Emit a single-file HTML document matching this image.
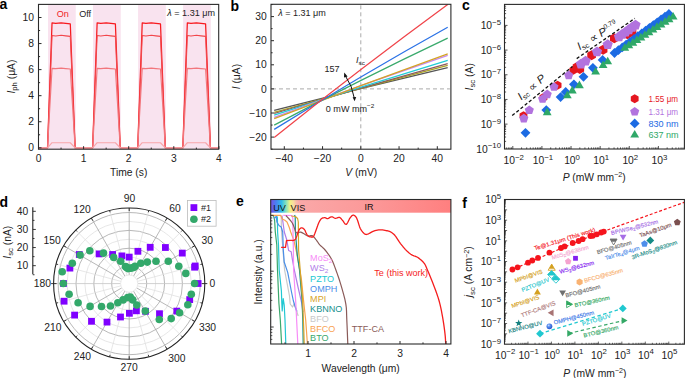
<!DOCTYPE html><html><head><meta charset="utf-8"><style>html,body{margin:0;padding:0;background:#fff}svg{display:block}</style></head><body>
<svg xmlns="http://www.w3.org/2000/svg" width="685" height="378" viewBox="0 0 685 378" font-family='"Liberation Sans", sans-serif'>
<rect width="685" height="378" fill="#fff"/>
<rect x="48" y="4.4" width="27.75" height="144.8" fill="#f9e3ef"/>
<rect x="93.03" y="4.4" width="27.75" height="144.8" fill="#f9e3ef"/>
<rect x="138.06" y="4.4" width="27.75" height="144.8" fill="#f9e3ef"/>
<rect x="183.09" y="4.4" width="27.75" height="144.8" fill="#f9e3ef"/>
<polyline points="39,147.8 47.52,147.8 52.03,22.97 55.68,23.47 61.16,22.77 65.73,23.37 70.3,23.97 75.12,147.8 92.62,147.8 97.13,22.97 100.78,23.47 106.26,22.77 110.83,23.37 115.4,23.97 120.22,147.8 137.72,147.8 142.23,22.97 145.88,23.47 151.36,22.77 155.93,23.37 160.5,23.97 165.32,147.8 182.82,147.8 187.33,22.97 190.98,23.47 196.46,22.77 201.03,23.37 205.6,23.97 210.42,147.8 218.2,147.8" fill="none" stroke="#f71a1f" stroke-width="1.25" stroke-linejoin="round"/>
<polyline points="39,147.8 47.52,147.8 52.03,35.48 55.68,35.93 61.16,35.3 65.73,35.84 70.3,36.38 75.12,147.8 92.62,147.8 97.13,35.48 100.78,35.93 106.26,35.3 110.83,35.84 115.4,36.38 120.22,147.8 137.72,147.8 142.23,35.48 145.88,35.93 151.36,35.3 155.93,35.84 160.5,36.38 165.32,147.8 182.82,147.8 187.33,35.48 190.98,35.93 196.46,35.3 201.03,35.84 205.6,36.38 210.42,147.8 218.2,147.8" fill="none" stroke="#f2474c" stroke-width="1.1" stroke-linejoin="round"/>
<polyline points="39,147.8 47.52,147.8 52.03,68.32 55.68,68.63 61.16,68.19 65.73,68.57 70.3,68.95 75.12,147.8 92.62,147.8 97.13,68.32 100.78,68.63 106.26,68.19 110.83,68.57 115.4,68.95 120.22,147.8 137.72,147.8 142.23,68.32 145.88,68.63 151.36,68.19 155.93,68.57 160.5,68.95 165.32,147.8 182.82,147.8 187.33,68.32 190.98,68.63 196.46,68.19 201.03,68.57 205.6,68.95 210.42,147.8 218.2,147.8" fill="none" stroke="#f2767c" stroke-width="1.15" stroke-linejoin="round"/>
<polyline points="39,147.8 47.52,147.8 52.03,142.72 55.68,142.74 61.16,142.71 65.73,142.73 70.3,142.76 75.12,147.8 92.62,147.8 97.13,142.72 100.78,142.74 106.26,142.71 110.83,142.73 115.4,142.76 120.22,147.8 137.72,147.8 142.23,142.72 145.88,142.74 151.36,142.71 155.93,142.73 160.5,142.76 165.32,147.8 182.82,147.8 187.33,142.72 190.98,142.74 196.46,142.71 201.03,142.73 205.6,142.76 210.42,147.8 218.2,147.8" fill="none" stroke="#f7a6aa" stroke-width="1.15" stroke-linejoin="round"/>
<rect x="38.5" y="4.4" width="180.2" height="144.8" fill="none" stroke="#2a2a2a" stroke-width="1.1"/>
<line x1="38.5" y1="147.8" x2="41.5" y2="147.8" stroke="#2a2a2a" stroke-width="1" />
<text transform="translate(33.9,151.4) scale(1.03,1)" font-size="10" text-anchor="end" fill="#222" >0</text>
<line x1="38.5" y1="134.77" x2="40.1" y2="134.77" stroke="#2a2a2a" stroke-width="1" />
<line x1="38.5" y1="121.74" x2="41.5" y2="121.74" stroke="#2a2a2a" stroke-width="1" />
<text transform="translate(33.9,125.34) scale(1.03,1)" font-size="10" text-anchor="end" fill="#222" >2</text>
<line x1="38.5" y1="108.71" x2="40.1" y2="108.71" stroke="#2a2a2a" stroke-width="1" />
<line x1="38.5" y1="95.68" x2="41.5" y2="95.68" stroke="#2a2a2a" stroke-width="1" />
<text transform="translate(33.9,99.28) scale(1.03,1)" font-size="10" text-anchor="end" fill="#222" >4</text>
<line x1="38.5" y1="82.65" x2="40.1" y2="82.65" stroke="#2a2a2a" stroke-width="1" />
<line x1="38.5" y1="69.62" x2="41.5" y2="69.62" stroke="#2a2a2a" stroke-width="1" />
<text transform="translate(33.9,73.22) scale(1.03,1)" font-size="10" text-anchor="end" fill="#222" >6</text>
<line x1="38.5" y1="56.59" x2="40.1" y2="56.59" stroke="#2a2a2a" stroke-width="1" />
<line x1="38.5" y1="43.56" x2="41.5" y2="43.56" stroke="#2a2a2a" stroke-width="1" />
<text transform="translate(33.9,47.16) scale(1.03,1)" font-size="10" text-anchor="end" fill="#222" >8</text>
<line x1="38.5" y1="30.53" x2="40.1" y2="30.53" stroke="#2a2a2a" stroke-width="1" />
<line x1="38.5" y1="17.5" x2="41.5" y2="17.5" stroke="#2a2a2a" stroke-width="1" />
<text transform="translate(33.9,21.1) scale(1.03,1)" font-size="10" text-anchor="end" fill="#222" >10</text>
<line x1="38.5" y1="149.2" x2="38.5" y2="146.2" stroke="#2a2a2a" stroke-width="1" />
<text transform="translate(38.5,161.5) scale(1.03,1)" font-size="10" text-anchor="middle" fill="#222" >0</text>
<line x1="61.05" y1="149.2" x2="61.05" y2="147.6" stroke="#2a2a2a" stroke-width="1" />
<line x1="83.6" y1="149.2" x2="83.6" y2="146.2" stroke="#2a2a2a" stroke-width="1" />
<text transform="translate(83.6,161.5) scale(1.03,1)" font-size="10" text-anchor="middle" fill="#222" >1</text>
<line x1="106.15" y1="149.2" x2="106.15" y2="147.6" stroke="#2a2a2a" stroke-width="1" />
<line x1="128.7" y1="149.2" x2="128.7" y2="146.2" stroke="#2a2a2a" stroke-width="1" />
<text transform="translate(128.7,161.5) scale(1.03,1)" font-size="10" text-anchor="middle" fill="#222" >2</text>
<line x1="151.25" y1="149.2" x2="151.25" y2="147.6" stroke="#2a2a2a" stroke-width="1" />
<line x1="173.8" y1="149.2" x2="173.8" y2="146.2" stroke="#2a2a2a" stroke-width="1" />
<text transform="translate(173.8,161.5) scale(1.03,1)" font-size="10" text-anchor="middle" fill="#222" >3</text>
<line x1="196.35" y1="149.2" x2="196.35" y2="147.6" stroke="#2a2a2a" stroke-width="1" />
<line x1="218.9" y1="149.2" x2="218.9" y2="146.2" stroke="#2a2a2a" stroke-width="1" />
<text transform="translate(218.9,161.5) scale(1.03,1)" font-size="10" text-anchor="middle" fill="#222" >4</text>
<text transform="translate(128.7,176.4) scale(1.03,1)" font-size="10" text-anchor="middle" fill="#222" >Time (s)</text>
<text transform="translate(15.0,76.6) rotate(-90) scale(1.03,1)" font-size="10" text-anchor="middle" fill="#222"><tspan font-style="italic">I</tspan><tspan font-size="7.5" dy="2.4">ph</tspan><tspan dy="-2.4"> (μA)</tspan></text>
<text transform="translate(56.8,17) scale(1.03,1)" font-size="8.8" fill="#f01c24" >On</text>
<text transform="translate(79.2,17.2) scale(1.03,1)" font-size="8.8" fill="#222" >Off</text>
<text transform="translate(167.3,15.7) scale(1.03,1)" font-size="8.8" fill="#222"><tspan font-style="italic">λ</tspan> = 1.31 μm</text>
<text x="-0.6" y="8.8" font-size="14" font-weight="bold" fill="#000" >a</text>
<line x1="272" y1="88.9" x2="449.9" y2="88.9" stroke="#aaaaaa" stroke-width="1" stroke-dasharray="4,3"/>
<line x1="360.8" y1="5.3" x2="360.8" y2="148.2" stroke="#aaaaaa" stroke-width="1" stroke-dasharray="4,3"/>
<path d="M274.2,110.4 Q360.95,88.25 447.7,67.7" fill="none" stroke="#555555" stroke-width="1.25" />
<path d="M274.2,112.4 Q360.95,87.9 447.7,65.4" fill="none" stroke="#a8a224" stroke-width="1.25" />
<path d="M274.2,113.5 Q360.95,87.6 447.7,63.7" fill="none" stroke="#8b5a5e" stroke-width="1.25" />
<path d="M274.2,115.2 Q360.95,86.6 447.7,60.4" fill="none" stroke="#22cdd6" stroke-width="1.25" />
<path d="M274.2,117.3 Q360.95,84.95 447.7,55.4" fill="none" stroke="#c58af2" stroke-width="1.25" />
<path d="M274.2,118.7 Q360.95,84.9 447.7,53.9" fill="none" stroke="#d4a324" stroke-width="1.25" />
<path d="M274.2,125.1 Q360.95,79.2 447.7,38.1" fill="none" stroke="#3aaa6c" stroke-width="1.25" />
<path d="M274.2,129.4 Q360.95,75.5 447.7,27.2" fill="none" stroke="#2b72e6" stroke-width="1.25" />
<path d="M274.2,137.4 Q360.95,68.2 447.7,4.6" fill="none" stroke="#f0444a" stroke-width="1.25" />
<rect x="271" y="4.3" width="179.9" height="144.9" fill="none" stroke="#2a2a2a" stroke-width="1.1"/>
<line x1="271" y1="149.15" x2="272.6" y2="149.15" stroke="#2a2a2a" stroke-width="1" />
<line x1="271" y1="137.1" x2="274" y2="137.1" stroke="#2a2a2a" stroke-width="1" />
<text transform="translate(266.6,140.7) scale(1.03,1)" font-size="10" text-anchor="end" fill="#222" >−20</text>
<line x1="271" y1="125.05" x2="272.6" y2="125.05" stroke="#2a2a2a" stroke-width="1" />
<line x1="271" y1="113" x2="274" y2="113" stroke="#2a2a2a" stroke-width="1" />
<text transform="translate(266.6,116.6) scale(1.03,1)" font-size="10" text-anchor="end" fill="#222" >−10</text>
<line x1="271" y1="100.95" x2="272.6" y2="100.95" stroke="#2a2a2a" stroke-width="1" />
<line x1="271" y1="88.9" x2="274" y2="88.9" stroke="#2a2a2a" stroke-width="1" />
<text transform="translate(266.6,92.5) scale(1.03,1)" font-size="10" text-anchor="end" fill="#222" >0</text>
<line x1="271" y1="76.85" x2="272.6" y2="76.85" stroke="#2a2a2a" stroke-width="1" />
<line x1="271" y1="64.8" x2="274" y2="64.8" stroke="#2a2a2a" stroke-width="1" />
<text transform="translate(266.6,68.4) scale(1.03,1)" font-size="10" text-anchor="end" fill="#222" >10</text>
<line x1="271" y1="52.75" x2="272.6" y2="52.75" stroke="#2a2a2a" stroke-width="1" />
<line x1="271" y1="40.7" x2="274" y2="40.7" stroke="#2a2a2a" stroke-width="1" />
<text transform="translate(266.6,44.3) scale(1.03,1)" font-size="10" text-anchor="end" fill="#222" >20</text>
<line x1="271" y1="28.65" x2="272.6" y2="28.65" stroke="#2a2a2a" stroke-width="1" />
<line x1="271" y1="16.6" x2="274" y2="16.6" stroke="#2a2a2a" stroke-width="1" />
<text transform="translate(266.6,20.2) scale(1.03,1)" font-size="10" text-anchor="end" fill="#222" >30</text>
<line x1="271" y1="4.55" x2="272.6" y2="4.55" stroke="#2a2a2a" stroke-width="1" />
<line x1="284.3" y1="149.2" x2="284.3" y2="146.2" stroke="#2a2a2a" stroke-width="1" />
<text transform="translate(284.3,161.9) scale(1.03,1)" font-size="10" text-anchor="middle" fill="#222" >−40</text>
<line x1="303.43" y1="149.2" x2="303.43" y2="147.6" stroke="#2a2a2a" stroke-width="1" />
<line x1="322.55" y1="149.2" x2="322.55" y2="146.2" stroke="#2a2a2a" stroke-width="1" />
<text transform="translate(322.55,161.9) scale(1.03,1)" font-size="10" text-anchor="middle" fill="#222" >−20</text>
<line x1="341.68" y1="149.2" x2="341.68" y2="147.6" stroke="#2a2a2a" stroke-width="1" />
<line x1="360.8" y1="149.2" x2="360.8" y2="146.2" stroke="#2a2a2a" stroke-width="1" />
<text transform="translate(360.8,161.9) scale(1.03,1)" font-size="10" text-anchor="middle" fill="#222" >0</text>
<line x1="379.93" y1="149.2" x2="379.93" y2="147.6" stroke="#2a2a2a" stroke-width="1" />
<line x1="399.05" y1="149.2" x2="399.05" y2="146.2" stroke="#2a2a2a" stroke-width="1" />
<text transform="translate(399.05,161.9) scale(1.03,1)" font-size="10" text-anchor="middle" fill="#222" >20</text>
<line x1="418.18" y1="149.2" x2="418.18" y2="147.6" stroke="#2a2a2a" stroke-width="1" />
<line x1="437.3" y1="149.2" x2="437.3" y2="146.2" stroke="#2a2a2a" stroke-width="1" />
<text transform="translate(437.3,161.9) scale(1.03,1)" font-size="10" text-anchor="middle" fill="#222" >40</text>
<text transform="translate(361.2,176.2) scale(1.03,1)" font-size="10" text-anchor="middle" fill="#222"><tspan font-style="italic">V</tspan> (mV)</text>
<text transform="translate(240,76.6) rotate(-90) scale(1.03,1)" font-size="10" text-anchor="middle" fill="#222"><tspan font-style="italic">I</tspan> (μA)</text>
<text transform="translate(278.2,15.9) scale(1.03,1)" font-size="8.8" fill="#222"><tspan font-style="italic">λ</tspan> = 1.31 μm</text>
<text transform="translate(324.4,72.2) scale(1.03,1)" font-size="8.8" fill="#222" >157</text>
<text transform="translate(325.8,111.6) scale(1.03,1)" font-size="8.8" fill="#222">0 mW mm<tspan font-size="6.2" dy="-3.3">−2</tspan></text>
<text transform="translate(356.0,62.8) scale(1.03,1)" font-size="8.8" fill="#222"><tspan font-style="italic">I</tspan><tspan font-size="6.2" dy="2.4">sc</tspan></text>
<path d="M345.2,75.5 Q352.5,86 354.4,98.5" fill="none" stroke="#111" stroke-width="1" />
<polygon points="344.2,72.6 347.6,76.6 344,77.4" fill="#111" stroke="none" stroke-width="1" />
<polygon points="354.6,101.2 352.6,97.2 356.2,97" fill="#111" stroke="none" stroke-width="1" />
<text x="230.6" y="10.6" font-size="14" font-weight="bold" fill="#000" >b</text>
<polygon points="523.5,111.3 527.4,113.55 527.4,118.05 523.5,120.3 519.6,118.05 519.6,113.55" fill="#e5161f" stroke="none" stroke-width="1" />
<polygon points="543.5,93.1 547.4,95.35 547.4,99.85 543.5,102.1 539.6,99.85 539.6,95.35" fill="#e5161f" stroke="none" stroke-width="1" />
<polygon points="557.6,80.7 561.5,82.95 561.5,87.45 557.6,89.7 553.7,87.45 553.7,82.95" fill="#e5161f" stroke="none" stroke-width="1" />
<polygon points="573.3,65.8 577.2,68.05 577.2,72.55 573.3,74.8 569.4,72.55 569.4,68.05" fill="#e5161f" stroke="none" stroke-width="1" />
<polygon points="577,62 581.33,64.5 581.33,69.5 577,72 572.67,69.5 572.67,64.5" fill="#e5161f" stroke="none" stroke-width="1" />
<polygon points="579.8,63.9 584.13,66.4 584.13,71.4 579.8,73.9 575.47,71.4 575.47,66.4" fill="#e5161f" stroke="none" stroke-width="1" />
<polygon points="591.6,50.3 595.93,52.8 595.93,57.8 591.6,60.3 587.27,57.8 587.27,52.8" fill="#e5161f" stroke="none" stroke-width="1" />
<polygon points="603.1,44.7 607.43,47.2 607.43,52.2 603.1,54.7 598.77,52.2 598.77,47.2" fill="#e5161f" stroke="none" stroke-width="1" />
<polygon points="614.3,33.3 618.63,35.8 618.63,40.8 614.3,43.3 609.97,40.8 609.97,35.8" fill="#e5161f" stroke="none" stroke-width="1" />
<polygon points="627.5,29.2 631.83,31.7 631.83,36.7 627.5,39.2 623.17,36.7 623.17,31.7" fill="#e5161f" stroke="none" stroke-width="1" />
<polygon points="632,26.4 636.33,28.9 636.33,33.9 632,36.4 627.67,33.9 627.67,28.9" fill="#e5161f" stroke="none" stroke-width="1" />
<polygon points="523.8,113.78 528.37,117.1 526.62,122.46 520.98,122.46 519.23,117.1" fill="#b273de" stroke="none" stroke-width="1" />
<polygon points="529.3,105.38 533.87,108.7 532.12,114.06 526.48,114.06 524.73,108.7" fill="#b273de" stroke="none" stroke-width="1" />
<polygon points="542.6,94.18 547.17,97.5 545.42,102.86 539.78,102.86 538.03,97.5" fill="#b273de" stroke="none" stroke-width="1" />
<polygon points="547.2,89.58 551.77,92.9 550.02,98.26 544.38,98.26 542.63,92.9" fill="#b273de" stroke="none" stroke-width="1" />
<polygon points="554,82.18 558.57,85.5 556.82,90.86 551.18,90.86 549.43,85.5" fill="#b273de" stroke="none" stroke-width="1" />
<polygon points="568.7,70.58 573.27,73.9 571.52,79.26 565.88,79.26 564.13,73.9" fill="#b273de" stroke="none" stroke-width="1" />
<polygon points="580.9,58.74 586.04,62.47 584.07,68.51 577.73,68.51 575.76,62.47" fill="#b273de" stroke="none" stroke-width="1" />
<polygon points="585.6,55.74 590.74,59.47 588.77,65.51 582.43,65.51 580.46,59.47" fill="#b273de" stroke="none" stroke-width="1" />
<polygon points="597,46.44 602.14,50.17 600.17,56.21 593.83,56.21 591.86,50.17" fill="#b273de" stroke="none" stroke-width="1" />
<polygon points="607.7,39.34 612.84,43.07 610.87,49.11 604.53,49.11 602.56,43.07" fill="#b273de" stroke="none" stroke-width="1" />
<polygon points="619,31.44 624.14,35.17 622.17,41.21 615.83,41.21 613.86,35.17" fill="#b273de" stroke="none" stroke-width="1" />
<polygon points="622.3,29.08 627.44,32.81 625.47,38.85 619.13,38.85 617.16,32.81" fill="#b273de" stroke="none" stroke-width="1" />
<polygon points="625.6,26.72 630.74,30.45 628.77,36.49 622.43,36.49 620.46,30.45" fill="#b273de" stroke="none" stroke-width="1" />
<polygon points="628.9,24.36 634.04,28.09 632.07,34.13 625.73,34.13 623.76,28.09" fill="#b273de" stroke="none" stroke-width="1" />
<polygon points="632.2,22 637.34,25.73 635.37,31.77 629.03,31.77 627.06,25.73" fill="#b273de" stroke="none" stroke-width="1" />
<polygon points="635.5,19.64 640.64,23.37 638.67,29.41 632.33,29.41 630.36,23.37" fill="#b273de" stroke="none" stroke-width="1" />
<polygon points="525.5,127.9 530.4,132.8 525.5,137.7 520.6,132.8" fill="#1c6be3" stroke="none" stroke-width="1" />
<polygon points="546.3,105.2 551.2,110.1 546.3,115 541.4,110.1" fill="#1c6be3" stroke="none" stroke-width="1" />
<polygon points="560.6,92.2 565.5,97.1 560.6,102 555.7,97.1" fill="#1c6be3" stroke="none" stroke-width="1" />
<polygon points="565.7,87.1 570.6,92 565.7,96.9 560.8,92" fill="#1c6be3" stroke="none" stroke-width="1" />
<polygon points="573.9,79.4 578.8,84.3 573.9,89.2 569,84.3" fill="#1c6be3" stroke="none" stroke-width="1" />
<polygon points="583.5,71.9 588.4,76.8 583.5,81.7 578.6,76.8" fill="#1c6be3" stroke="none" stroke-width="1" />
<polygon points="592.9,62.9 597.8,67.8 592.9,72.7 588,67.8" fill="#1c6be3" stroke="none" stroke-width="1" />
<polygon points="602.6,55 607.5,59.9 602.6,64.8 597.7,59.9" fill="#1c6be3" stroke="none" stroke-width="1" />
<polygon points="614.5,48.1 619.4,53 614.5,57.9 609.6,53" fill="#1c6be3" stroke="none" stroke-width="1" />
<polygon points="618.39,45.31 623.29,50.21 618.39,55.11 613.49,50.21" fill="#1c6be3" stroke="none" stroke-width="1" />
<polygon points="622.27,42.51 627.17,47.41 622.27,52.31 617.37,47.41" fill="#1c6be3" stroke="none" stroke-width="1" />
<polygon points="626.16,39.72 631.06,44.62 626.16,49.52 621.26,44.62" fill="#1c6be3" stroke="none" stroke-width="1" />
<polygon points="630.04,36.93 634.94,41.83 630.04,46.73 625.14,41.83" fill="#1c6be3" stroke="none" stroke-width="1" />
<polygon points="633.93,34.14 638.83,39.04 633.93,43.94 629.03,39.04" fill="#1c6be3" stroke="none" stroke-width="1" />
<polygon points="637.81,31.34 642.71,36.24 637.81,41.14 632.91,36.24" fill="#1c6be3" stroke="none" stroke-width="1" />
<polygon points="641.7,28.55 646.6,33.45 641.7,38.35 636.8,33.45" fill="#1c6be3" stroke="none" stroke-width="1" />
<polygon points="645.59,25.76 650.49,30.66 645.59,35.56 640.69,30.66" fill="#1c6be3" stroke="none" stroke-width="1" />
<polygon points="649.47,22.96 654.37,27.86 649.47,32.76 644.57,27.86" fill="#1c6be3" stroke="none" stroke-width="1" />
<polygon points="653.36,20.17 658.26,25.07 653.36,29.97 648.46,25.07" fill="#1c6be3" stroke="none" stroke-width="1" />
<polygon points="657.24,17.38 662.14,22.28 657.24,27.18 652.34,22.28" fill="#1c6be3" stroke="none" stroke-width="1" />
<polygon points="661.13,14.59 666.03,19.49 661.13,24.39 656.23,19.49" fill="#1c6be3" stroke="none" stroke-width="1" />
<polygon points="665.01,11.79 669.91,16.69 665.01,21.59 660.11,16.69" fill="#1c6be3" stroke="none" stroke-width="1" />
<polygon points="668.9,9 673.8,13.9 668.9,18.8 664,13.9" fill="#1c6be3" stroke="none" stroke-width="1" />
<polygon points="547.2,107.5 551.62,115.15 542.78,115.15" fill="#2fa868" stroke="none" stroke-width="1" />
<polygon points="567.3,90.7 571.72,98.35 562.88,98.35" fill="#2fa868" stroke="none" stroke-width="1" />
<polygon points="572.3,85.8 576.72,93.45 567.88,93.45" fill="#2fa868" stroke="none" stroke-width="1" />
<polygon points="579.4,80.5 583.82,88.15 574.98,88.15" fill="#2fa868" stroke="none" stroke-width="1" />
<polygon points="595.6,66.9 600.02,74.55 591.18,74.55" fill="#2fa868" stroke="none" stroke-width="1" />
<polygon points="603.1,60.4 607.52,68.05 598.68,68.05" fill="#2fa868" stroke="none" stroke-width="1" />
<polygon points="607.7,56.7 612.12,64.35 603.28,64.35" fill="#2fa868" stroke="none" stroke-width="1" />
<polygon points="624.8,43.2 629.22,50.85 620.38,50.85" fill="#2fa868" stroke="none" stroke-width="1" />
<polygon points="628.82,40.59 633.24,48.24 624.41,48.24" fill="#2fa868" stroke="none" stroke-width="1" />
<polygon points="632.85,37.98 637.27,45.63 628.43,45.63" fill="#2fa868" stroke="none" stroke-width="1" />
<polygon points="636.88,35.37 641.29,43.02 632.46,43.02" fill="#2fa868" stroke="none" stroke-width="1" />
<polygon points="640.9,32.77 645.32,40.42 636.48,40.42" fill="#2fa868" stroke="none" stroke-width="1" />
<polygon points="644.92,30.16 649.34,37.81 640.51,37.81" fill="#2fa868" stroke="none" stroke-width="1" />
<polygon points="648.95,27.55 653.37,35.2 644.53,35.2" fill="#2fa868" stroke="none" stroke-width="1" />
<polygon points="652.98,24.94 657.39,32.59 648.56,32.59" fill="#2fa868" stroke="none" stroke-width="1" />
<polygon points="657,22.33 661.42,29.98 652.58,29.98" fill="#2fa868" stroke="none" stroke-width="1" />
<polygon points="661.02,19.73 665.44,27.38 656.61,27.38" fill="#2fa868" stroke="none" stroke-width="1" />
<polygon points="665.05,17.12 669.47,24.77 660.63,24.77" fill="#2fa868" stroke="none" stroke-width="1" />
<polygon points="669.08,14.51 673.49,22.16 664.66,22.16" fill="#2fa868" stroke="none" stroke-width="1" />
<polygon points="673.1,11.9 677.52,19.55 668.68,19.55" fill="#2fa868" stroke="none" stroke-width="1" />
<line x1="512.2" y1="115.6" x2="572.5" y2="66.4" stroke="#111" stroke-width="1.3" stroke-dasharray="3.2,2.2"/>
<line x1="576.7" y1="58.6" x2="634.8" y2="18.4" stroke="#111" stroke-width="1.3" stroke-dasharray="3.2,2.2"/>
<rect x="504.5" y="4.4" width="179.9" height="144.6" fill="none" stroke="#2a2a2a" stroke-width="1.1"/>
<line x1="504.5" y1="141.37" x2="506.1" y2="141.37" stroke="#2a2a2a" stroke-width="0.8" />
<line x1="504.5" y1="137.02" x2="506.1" y2="137.02" stroke="#2a2a2a" stroke-width="0.8" />
<line x1="504.5" y1="133.94" x2="506.1" y2="133.94" stroke="#2a2a2a" stroke-width="0.8" />
<line x1="504.5" y1="131.55" x2="506.1" y2="131.55" stroke="#2a2a2a" stroke-width="0.8" />
<line x1="504.5" y1="129.6" x2="506.1" y2="129.6" stroke="#2a2a2a" stroke-width="0.8" />
<line x1="504.5" y1="127.94" x2="506.1" y2="127.94" stroke="#2a2a2a" stroke-width="0.8" />
<line x1="504.5" y1="126.51" x2="506.1" y2="126.51" stroke="#2a2a2a" stroke-width="0.8" />
<line x1="504.5" y1="125.25" x2="506.1" y2="125.25" stroke="#2a2a2a" stroke-width="0.8" />
<text transform="translate(501,152.5) scale(1.03,1)" font-size="10" text-anchor="end" fill="#222">10<tspan font-size="7.6" dy="-4.2">−10</tspan></text>
<line x1="504.5" y1="124.12" x2="507.5" y2="124.12" stroke="#2a2a2a" stroke-width="0.8" />
<line x1="504.5" y1="116.69" x2="506.1" y2="116.69" stroke="#2a2a2a" stroke-width="0.8" />
<line x1="504.5" y1="112.34" x2="506.1" y2="112.34" stroke="#2a2a2a" stroke-width="0.8" />
<line x1="504.5" y1="109.26" x2="506.1" y2="109.26" stroke="#2a2a2a" stroke-width="0.8" />
<line x1="504.5" y1="106.87" x2="506.1" y2="106.87" stroke="#2a2a2a" stroke-width="0.8" />
<line x1="504.5" y1="104.92" x2="506.1" y2="104.92" stroke="#2a2a2a" stroke-width="0.8" />
<line x1="504.5" y1="103.26" x2="506.1" y2="103.26" stroke="#2a2a2a" stroke-width="0.8" />
<line x1="504.5" y1="101.83" x2="506.1" y2="101.83" stroke="#2a2a2a" stroke-width="0.8" />
<line x1="504.5" y1="100.57" x2="506.1" y2="100.57" stroke="#2a2a2a" stroke-width="0.8" />
<text transform="translate(501,127.82) scale(1.03,1)" font-size="10" text-anchor="end" fill="#222">10<tspan font-size="7.6" dy="-4.2">−9</tspan></text>
<line x1="504.5" y1="99.44" x2="507.5" y2="99.44" stroke="#2a2a2a" stroke-width="0.8" />
<line x1="504.5" y1="92.01" x2="506.1" y2="92.01" stroke="#2a2a2a" stroke-width="0.8" />
<line x1="504.5" y1="87.66" x2="506.1" y2="87.66" stroke="#2a2a2a" stroke-width="0.8" />
<line x1="504.5" y1="84.58" x2="506.1" y2="84.58" stroke="#2a2a2a" stroke-width="0.8" />
<line x1="504.5" y1="82.19" x2="506.1" y2="82.19" stroke="#2a2a2a" stroke-width="0.8" />
<line x1="504.5" y1="80.24" x2="506.1" y2="80.24" stroke="#2a2a2a" stroke-width="0.8" />
<line x1="504.5" y1="78.58" x2="506.1" y2="78.58" stroke="#2a2a2a" stroke-width="0.8" />
<line x1="504.5" y1="77.15" x2="506.1" y2="77.15" stroke="#2a2a2a" stroke-width="0.8" />
<line x1="504.5" y1="75.89" x2="506.1" y2="75.89" stroke="#2a2a2a" stroke-width="0.8" />
<text transform="translate(501,103.14) scale(1.03,1)" font-size="10" text-anchor="end" fill="#222">10<tspan font-size="7.6" dy="-4.2">−8</tspan></text>
<line x1="504.5" y1="74.76" x2="507.5" y2="74.76" stroke="#2a2a2a" stroke-width="0.8" />
<line x1="504.5" y1="67.33" x2="506.1" y2="67.33" stroke="#2a2a2a" stroke-width="0.8" />
<line x1="504.5" y1="62.98" x2="506.1" y2="62.98" stroke="#2a2a2a" stroke-width="0.8" />
<line x1="504.5" y1="59.9" x2="506.1" y2="59.9" stroke="#2a2a2a" stroke-width="0.8" />
<line x1="504.5" y1="57.51" x2="506.1" y2="57.51" stroke="#2a2a2a" stroke-width="0.8" />
<line x1="504.5" y1="55.56" x2="506.1" y2="55.56" stroke="#2a2a2a" stroke-width="0.8" />
<line x1="504.5" y1="53.9" x2="506.1" y2="53.9" stroke="#2a2a2a" stroke-width="0.8" />
<line x1="504.5" y1="52.47" x2="506.1" y2="52.47" stroke="#2a2a2a" stroke-width="0.8" />
<line x1="504.5" y1="51.21" x2="506.1" y2="51.21" stroke="#2a2a2a" stroke-width="0.8" />
<text transform="translate(501,78.46) scale(1.03,1)" font-size="10" text-anchor="end" fill="#222">10<tspan font-size="7.6" dy="-4.2">−7</tspan></text>
<line x1="504.5" y1="50.08" x2="507.5" y2="50.08" stroke="#2a2a2a" stroke-width="0.8" />
<line x1="504.5" y1="42.65" x2="506.1" y2="42.65" stroke="#2a2a2a" stroke-width="0.8" />
<line x1="504.5" y1="38.3" x2="506.1" y2="38.3" stroke="#2a2a2a" stroke-width="0.8" />
<line x1="504.5" y1="35.22" x2="506.1" y2="35.22" stroke="#2a2a2a" stroke-width="0.8" />
<line x1="504.5" y1="32.83" x2="506.1" y2="32.83" stroke="#2a2a2a" stroke-width="0.8" />
<line x1="504.5" y1="30.88" x2="506.1" y2="30.88" stroke="#2a2a2a" stroke-width="0.8" />
<line x1="504.5" y1="29.22" x2="506.1" y2="29.22" stroke="#2a2a2a" stroke-width="0.8" />
<line x1="504.5" y1="27.79" x2="506.1" y2="27.79" stroke="#2a2a2a" stroke-width="0.8" />
<line x1="504.5" y1="26.53" x2="506.1" y2="26.53" stroke="#2a2a2a" stroke-width="0.8" />
<text transform="translate(501,53.78) scale(1.03,1)" font-size="10" text-anchor="end" fill="#222">10<tspan font-size="7.6" dy="-4.2">−6</tspan></text>
<line x1="504.5" y1="25.4" x2="507.5" y2="25.4" stroke="#2a2a2a" stroke-width="0.8" />
<line x1="504.5" y1="17.97" x2="506.1" y2="17.97" stroke="#2a2a2a" stroke-width="0.8" />
<line x1="504.5" y1="13.62" x2="506.1" y2="13.62" stroke="#2a2a2a" stroke-width="0.8" />
<line x1="504.5" y1="10.54" x2="506.1" y2="10.54" stroke="#2a2a2a" stroke-width="0.8" />
<line x1="504.5" y1="8.15" x2="506.1" y2="8.15" stroke="#2a2a2a" stroke-width="0.8" />
<line x1="504.5" y1="6.2" x2="506.1" y2="6.2" stroke="#2a2a2a" stroke-width="0.8" />
<text transform="translate(501,29.1) scale(1.03,1)" font-size="10" text-anchor="end" fill="#222">10<tspan font-size="7.6" dy="-4.2">−5</tspan></text>
<line x1="506.34" y1="149" x2="506.34" y2="147.4" stroke="#2a2a2a" stroke-width="0.8" />
<line x1="508.29" y1="149" x2="508.29" y2="147.4" stroke="#2a2a2a" stroke-width="0.8" />
<line x1="509.98" y1="149" x2="509.98" y2="147.4" stroke="#2a2a2a" stroke-width="0.8" />
<line x1="511.47" y1="149" x2="511.47" y2="147.4" stroke="#2a2a2a" stroke-width="0.8" />
<line x1="512.8" y1="149" x2="512.8" y2="146" stroke="#2a2a2a" stroke-width="0.8" />
<line x1="521.57" y1="149" x2="521.57" y2="147.4" stroke="#2a2a2a" stroke-width="0.8" />
<line x1="526.69" y1="149" x2="526.69" y2="147.4" stroke="#2a2a2a" stroke-width="0.8" />
<line x1="530.33" y1="149" x2="530.33" y2="147.4" stroke="#2a2a2a" stroke-width="0.8" />
<line x1="533.15" y1="149" x2="533.15" y2="147.4" stroke="#2a2a2a" stroke-width="0.8" />
<line x1="535.46" y1="149" x2="535.46" y2="147.4" stroke="#2a2a2a" stroke-width="0.8" />
<line x1="537.41" y1="149" x2="537.41" y2="147.4" stroke="#2a2a2a" stroke-width="0.8" />
<line x1="539.1" y1="149" x2="539.1" y2="147.4" stroke="#2a2a2a" stroke-width="0.8" />
<line x1="540.59" y1="149" x2="540.59" y2="147.4" stroke="#2a2a2a" stroke-width="0.8" />
<text transform="translate(513.8,164.1) scale(1.03,1)" font-size="10" text-anchor="middle" fill="#222">10<tspan font-size="7.6" dy="-4.2">−2</tspan></text>
<line x1="541.92" y1="149" x2="541.92" y2="146" stroke="#2a2a2a" stroke-width="0.8" />
<line x1="550.69" y1="149" x2="550.69" y2="147.4" stroke="#2a2a2a" stroke-width="0.8" />
<line x1="555.81" y1="149" x2="555.81" y2="147.4" stroke="#2a2a2a" stroke-width="0.8" />
<line x1="559.45" y1="149" x2="559.45" y2="147.4" stroke="#2a2a2a" stroke-width="0.8" />
<line x1="562.27" y1="149" x2="562.27" y2="147.4" stroke="#2a2a2a" stroke-width="0.8" />
<line x1="564.58" y1="149" x2="564.58" y2="147.4" stroke="#2a2a2a" stroke-width="0.8" />
<line x1="566.53" y1="149" x2="566.53" y2="147.4" stroke="#2a2a2a" stroke-width="0.8" />
<line x1="568.22" y1="149" x2="568.22" y2="147.4" stroke="#2a2a2a" stroke-width="0.8" />
<line x1="569.71" y1="149" x2="569.71" y2="147.4" stroke="#2a2a2a" stroke-width="0.8" />
<text transform="translate(542.92,164.1) scale(1.03,1)" font-size="10" text-anchor="middle" fill="#222">10<tspan font-size="7.6" dy="-4.2">−1</tspan></text>
<line x1="571.04" y1="149" x2="571.04" y2="146" stroke="#2a2a2a" stroke-width="0.8" />
<line x1="579.81" y1="149" x2="579.81" y2="147.4" stroke="#2a2a2a" stroke-width="0.8" />
<line x1="584.93" y1="149" x2="584.93" y2="147.4" stroke="#2a2a2a" stroke-width="0.8" />
<line x1="588.57" y1="149" x2="588.57" y2="147.4" stroke="#2a2a2a" stroke-width="0.8" />
<line x1="591.39" y1="149" x2="591.39" y2="147.4" stroke="#2a2a2a" stroke-width="0.8" />
<line x1="593.7" y1="149" x2="593.7" y2="147.4" stroke="#2a2a2a" stroke-width="0.8" />
<line x1="595.65" y1="149" x2="595.65" y2="147.4" stroke="#2a2a2a" stroke-width="0.8" />
<line x1="597.34" y1="149" x2="597.34" y2="147.4" stroke="#2a2a2a" stroke-width="0.8" />
<line x1="598.83" y1="149" x2="598.83" y2="147.4" stroke="#2a2a2a" stroke-width="0.8" />
<text transform="translate(572.04,164.1) scale(1.03,1)" font-size="10" text-anchor="middle" fill="#222">10<tspan font-size="7.6" dy="-4.2">0</tspan></text>
<line x1="600.16" y1="149" x2="600.16" y2="146" stroke="#2a2a2a" stroke-width="0.8" />
<line x1="608.93" y1="149" x2="608.93" y2="147.4" stroke="#2a2a2a" stroke-width="0.8" />
<line x1="614.05" y1="149" x2="614.05" y2="147.4" stroke="#2a2a2a" stroke-width="0.8" />
<line x1="617.69" y1="149" x2="617.69" y2="147.4" stroke="#2a2a2a" stroke-width="0.8" />
<line x1="620.51" y1="149" x2="620.51" y2="147.4" stroke="#2a2a2a" stroke-width="0.8" />
<line x1="622.82" y1="149" x2="622.82" y2="147.4" stroke="#2a2a2a" stroke-width="0.8" />
<line x1="624.77" y1="149" x2="624.77" y2="147.4" stroke="#2a2a2a" stroke-width="0.8" />
<line x1="626.46" y1="149" x2="626.46" y2="147.4" stroke="#2a2a2a" stroke-width="0.8" />
<line x1="627.95" y1="149" x2="627.95" y2="147.4" stroke="#2a2a2a" stroke-width="0.8" />
<text transform="translate(601.16,164.1) scale(1.03,1)" font-size="10" text-anchor="middle" fill="#222">10<tspan font-size="7.6" dy="-4.2">1</tspan></text>
<line x1="629.28" y1="149" x2="629.28" y2="146" stroke="#2a2a2a" stroke-width="0.8" />
<line x1="638.05" y1="149" x2="638.05" y2="147.4" stroke="#2a2a2a" stroke-width="0.8" />
<line x1="643.17" y1="149" x2="643.17" y2="147.4" stroke="#2a2a2a" stroke-width="0.8" />
<line x1="646.81" y1="149" x2="646.81" y2="147.4" stroke="#2a2a2a" stroke-width="0.8" />
<line x1="649.63" y1="149" x2="649.63" y2="147.4" stroke="#2a2a2a" stroke-width="0.8" />
<line x1="651.94" y1="149" x2="651.94" y2="147.4" stroke="#2a2a2a" stroke-width="0.8" />
<line x1="653.89" y1="149" x2="653.89" y2="147.4" stroke="#2a2a2a" stroke-width="0.8" />
<line x1="655.58" y1="149" x2="655.58" y2="147.4" stroke="#2a2a2a" stroke-width="0.8" />
<line x1="657.07" y1="149" x2="657.07" y2="147.4" stroke="#2a2a2a" stroke-width="0.8" />
<text transform="translate(630.28,164.1) scale(1.03,1)" font-size="10" text-anchor="middle" fill="#222">10<tspan font-size="7.6" dy="-4.2">2</tspan></text>
<line x1="658.4" y1="149" x2="658.4" y2="146" stroke="#2a2a2a" stroke-width="0.8" />
<line x1="667.17" y1="149" x2="667.17" y2="147.4" stroke="#2a2a2a" stroke-width="0.8" />
<line x1="672.29" y1="149" x2="672.29" y2="147.4" stroke="#2a2a2a" stroke-width="0.8" />
<line x1="675.93" y1="149" x2="675.93" y2="147.4" stroke="#2a2a2a" stroke-width="0.8" />
<line x1="678.75" y1="149" x2="678.75" y2="147.4" stroke="#2a2a2a" stroke-width="0.8" />
<line x1="681.06" y1="149" x2="681.06" y2="147.4" stroke="#2a2a2a" stroke-width="0.8" />
<line x1="683.01" y1="149" x2="683.01" y2="147.4" stroke="#2a2a2a" stroke-width="0.8" />
<text transform="translate(659.4,164.1) scale(1.03,1)" font-size="10" text-anchor="middle" fill="#222">10<tspan font-size="7.6" dy="-4.2">3</tspan></text>
<polygon points="634.7,94.3 638.6,96.55 638.6,101.05 634.7,103.3 630.8,101.05 630.8,96.55" fill="#e5161f" stroke="none" stroke-width="1" />
<polygon points="634.7,106.88 639.27,110.2 637.52,115.56 631.88,115.56 630.13,110.2" fill="#b273de" stroke="none" stroke-width="1" />
<polygon points="634.7,118.5 639.6,123.4 634.7,128.3 629.8,123.4" fill="#1c6be3" stroke="none" stroke-width="1" />
<polygon points="634.7,129.9 639.12,137.55 630.28,137.55" fill="#2fa868" stroke="none" stroke-width="1" />
<text transform="translate(648.6,101.7) scale(1.03,1)" font-size="8.8" fill="#e5161f" textLength="28.6" lengthAdjust="spacingAndGlyphs">1.55 μm</text>
<text transform="translate(648.6,114.5) scale(1.03,1)" font-size="8.8" fill="#b273de" textLength="28.6" lengthAdjust="spacingAndGlyphs">1.31 μm</text>
<text transform="translate(648.4,126.5) scale(1.03,1)" font-size="8.8" fill="#1c6be3" >830 nm</text>
<text transform="translate(648.4,138.3) scale(1.03,1)" font-size="8.8" fill="#2fa868" >637 nm</text>
<text transform="translate(521.3,100.4) rotate(-40) scale(1.03,1)" font-size="11" fill="#222"><tspan font-style="italic">I</tspan><tspan font-size="7.2" dy="2">sc</tspan><tspan dy="-2"> ∝ </tspan><tspan font-style="italic">P</tspan></text>
<text transform="translate(579.8,50.2) rotate(-31) scale(1.03,1)" font-size="11" fill="#222"><tspan font-style="italic">I</tspan><tspan font-size="7.2" dy="2">sc</tspan><tspan dy="-2"> ∝ </tspan><tspan font-style="italic">P</tspan><tspan font-size="6.4" dy="-5">0.79</tspan></text>
<text transform="translate(594.2,180.5) scale(1.03,1)" font-size="10" text-anchor="middle" fill="#222"><tspan font-style="italic">P</tspan> (mW mm<tspan font-size="7" dy="-3.8">−2</tspan><tspan dy="3.8">)</tspan></text>
<text transform="translate(472.6,76.8) rotate(-90) scale(1.03,1)" font-size="10" text-anchor="middle" fill="#222"><tspan font-style="italic">I</tspan><tspan font-size="7.6" dy="2.4">sc</tspan><tspan dy="-2.4"> (A)</tspan></text>
<text x="462" y="9.9" font-size="14" font-weight="bold" fill="#000" >c</text>
<circle cx="129.2" cy="283.6" r="26.45" fill="none" stroke="#dcdcdc" stroke-width="0.7"/>
<circle cx="129.2" cy="283.6" r="44.3" fill="none" stroke="#dcdcdc" stroke-width="0.7"/>
<circle cx="129.2" cy="283.6" r="62.15" fill="none" stroke="#dcdcdc" stroke-width="0.7"/>
<circle cx="129.2" cy="283.6" r="17.52" fill="none" stroke="#a6a6a6" stroke-width="0.8"/>
<circle cx="129.2" cy="283.6" r="35.38" fill="none" stroke="#a6a6a6" stroke-width="0.8"/>
<circle cx="129.2" cy="283.6" r="53.23" fill="none" stroke="#a6a6a6" stroke-width="0.8"/>
<circle cx="129.2" cy="283.6" r="71.07" fill="none" stroke="#a6a6a6" stroke-width="0.8"/>
<line x1="137.8" y1="283.6" x2="204.8" y2="283.6" stroke="#c4c4c4" stroke-width="0.8" />
<line x1="137.51" y1="281.37" x2="202.22" y2="264.03" stroke="#dcdcdc" stroke-width="0.7" />
<line x1="136.65" y1="279.3" x2="194.67" y2="245.8" stroke="#a6a6a6" stroke-width="0.8" />
<line x1="135.28" y1="277.52" x2="182.66" y2="230.14" stroke="#dcdcdc" stroke-width="0.7" />
<line x1="133.5" y1="276.15" x2="167" y2="218.13" stroke="#a6a6a6" stroke-width="0.8" />
<line x1="131.43" y1="275.29" x2="148.77" y2="210.58" stroke="#dcdcdc" stroke-width="0.7" />
<line x1="129.2" y1="275" x2="129.2" y2="208" stroke="#a6a6a6" stroke-width="0.8" />
<line x1="126.97" y1="275.29" x2="109.63" y2="210.58" stroke="#dcdcdc" stroke-width="0.7" />
<line x1="124.9" y1="276.15" x2="91.4" y2="218.13" stroke="#a6a6a6" stroke-width="0.8" />
<line x1="123.12" y1="277.52" x2="75.74" y2="230.14" stroke="#dcdcdc" stroke-width="0.7" />
<line x1="121.75" y1="279.3" x2="63.73" y2="245.8" stroke="#a6a6a6" stroke-width="0.8" />
<line x1="120.89" y1="281.37" x2="56.18" y2="264.03" stroke="#dcdcdc" stroke-width="0.7" />
<line x1="120.6" y1="283.6" x2="53.6" y2="283.6" stroke="#c4c4c4" stroke-width="0.8" />
<line x1="120.89" y1="285.83" x2="56.18" y2="303.17" stroke="#dcdcdc" stroke-width="0.7" />
<line x1="121.75" y1="287.9" x2="63.73" y2="321.4" stroke="#a6a6a6" stroke-width="0.8" />
<line x1="123.12" y1="289.68" x2="75.74" y2="337.06" stroke="#dcdcdc" stroke-width="0.7" />
<line x1="124.9" y1="291.05" x2="91.4" y2="349.07" stroke="#a6a6a6" stroke-width="0.8" />
<line x1="126.97" y1="291.91" x2="109.63" y2="356.62" stroke="#dcdcdc" stroke-width="0.7" />
<line x1="129.2" y1="292.2" x2="129.2" y2="359.2" stroke="#a6a6a6" stroke-width="0.8" />
<line x1="131.43" y1="291.91" x2="148.77" y2="356.62" stroke="#dcdcdc" stroke-width="0.7" />
<line x1="133.5" y1="291.05" x2="167" y2="349.07" stroke="#a6a6a6" stroke-width="0.8" />
<line x1="135.28" y1="289.68" x2="182.66" y2="337.06" stroke="#dcdcdc" stroke-width="0.7" />
<line x1="136.65" y1="287.9" x2="194.67" y2="321.4" stroke="#a6a6a6" stroke-width="0.8" />
<line x1="137.51" y1="285.83" x2="202.22" y2="303.17" stroke="#dcdcdc" stroke-width="0.7" />
<circle cx="129.2" cy="283.6" r="8.6" fill="#fff" stroke="#dcdcdc" stroke-width="0.6"/>
<circle cx="129.2" cy="283.6" r="75.6" fill="none" stroke="#222" stroke-width="1.1"/>
<line x1="204.8" y1="283.6" x2="201.8" y2="283.6" stroke="#222" stroke-width="0.9" />
<line x1="202.22" y1="264.03" x2="200.49" y2="264.5" stroke="#222" stroke-width="0.9" />
<line x1="194.67" y1="245.8" x2="192.07" y2="247.3" stroke="#222" stroke-width="0.9" />
<line x1="182.66" y1="230.14" x2="181.38" y2="231.42" stroke="#222" stroke-width="0.9" />
<line x1="167" y1="218.13" x2="165.5" y2="220.73" stroke="#222" stroke-width="0.9" />
<line x1="148.77" y1="210.58" x2="148.3" y2="212.31" stroke="#222" stroke-width="0.9" />
<line x1="129.2" y1="208" x2="129.2" y2="211" stroke="#222" stroke-width="0.9" />
<line x1="109.63" y1="210.58" x2="110.1" y2="212.31" stroke="#222" stroke-width="0.9" />
<line x1="91.4" y1="218.13" x2="92.9" y2="220.73" stroke="#222" stroke-width="0.9" />
<line x1="75.74" y1="230.14" x2="77.02" y2="231.42" stroke="#222" stroke-width="0.9" />
<line x1="63.73" y1="245.8" x2="66.33" y2="247.3" stroke="#222" stroke-width="0.9" />
<line x1="56.18" y1="264.03" x2="57.91" y2="264.5" stroke="#222" stroke-width="0.9" />
<line x1="53.6" y1="283.6" x2="56.6" y2="283.6" stroke="#222" stroke-width="0.9" />
<line x1="56.18" y1="303.17" x2="57.91" y2="302.7" stroke="#222" stroke-width="0.9" />
<line x1="63.73" y1="321.4" x2="66.33" y2="319.9" stroke="#222" stroke-width="0.9" />
<line x1="75.74" y1="337.06" x2="77.02" y2="335.78" stroke="#222" stroke-width="0.9" />
<line x1="91.4" y1="349.07" x2="92.9" y2="346.47" stroke="#222" stroke-width="0.9" />
<line x1="109.63" y1="356.62" x2="110.1" y2="354.89" stroke="#222" stroke-width="0.9" />
<line x1="129.2" y1="359.2" x2="129.2" y2="356.2" stroke="#222" stroke-width="0.9" />
<line x1="148.77" y1="356.62" x2="148.3" y2="354.89" stroke="#222" stroke-width="0.9" />
<line x1="167" y1="349.07" x2="165.5" y2="346.47" stroke="#222" stroke-width="0.9" />
<line x1="182.66" y1="337.06" x2="181.38" y2="335.78" stroke="#222" stroke-width="0.9" />
<line x1="194.67" y1="321.4" x2="192.07" y2="319.9" stroke="#222" stroke-width="0.9" />
<line x1="202.22" y1="303.17" x2="200.49" y2="302.7" stroke="#222" stroke-width="0.9" />
<line x1="204.8" y1="283.6" x2="207.3" y2="283.6" stroke="#222" stroke-width="0.9" />
<line x1="51.1" y1="283.6" x2="53.6" y2="283.6" stroke="#222" stroke-width="0.9" />
<text transform="translate(129.5,201.6) scale(1.03,1)" font-size="10" text-anchor="middle" fill="#222" >90</text>
<text transform="translate(175,211.7) scale(1.03,1)" font-size="10" text-anchor="middle" fill="#222" >60</text>
<text transform="translate(207.3,243.8) scale(1.03,1)" font-size="10" text-anchor="middle" fill="#222" >30</text>
<text transform="translate(212.3,286.6) scale(1.03,1)" font-size="10" text-anchor="middle" fill="#222" >0</text>
<text transform="translate(207.5,330.6) scale(1.03,1)" font-size="10" text-anchor="middle" fill="#222" >330</text>
<text transform="translate(176.9,361.5) scale(1.03,1)" font-size="10" text-anchor="middle" fill="#222" >300</text>
<text transform="translate(129.1,371) scale(1.03,1)" font-size="10" text-anchor="middle" fill="#222" >270</text>
<text transform="translate(82.3,360.1) scale(1.03,1)" font-size="10" text-anchor="middle" fill="#222" >240</text>
<text transform="translate(52.8,330.8) scale(1.03,1)" font-size="10" text-anchor="middle" fill="#222" >210</text>
<text transform="translate(42.3,286.8) scale(1.03,1)" font-size="10" text-anchor="middle" fill="#222" >180</text>
<text transform="translate(52.1,243.6) scale(1.03,1)" font-size="10" text-anchor="middle" fill="#222" >150</text>
<text transform="translate(82.1,213) scale(1.03,1)" font-size="10" text-anchor="middle" fill="#222" >120</text>
<rect x="75.9" y="251.1" width="6.8" height="6.8" fill="#7f00ff"/>
<rect x="66.5" y="264.7" width="6.8" height="6.8" fill="#7f00ff"/>
<rect x="95.7" y="250.5" width="6.8" height="6.8" fill="#7f00ff"/>
<rect x="109.2" y="251.1" width="6.8" height="6.8" fill="#7f00ff"/>
<rect x="118.5" y="252.5" width="6.8" height="6.8" fill="#7f00ff"/>
<rect x="125.8" y="253.7" width="6.8" height="6.8" fill="#7f00ff"/>
<rect x="134.5" y="247.9" width="6.8" height="6.8" fill="#7f00ff"/>
<rect x="146.8" y="243.9" width="6.8" height="6.8" fill="#7f00ff"/>
<rect x="162" y="244.1" width="6.8" height="6.8" fill="#7f00ff"/>
<rect x="178.9" y="249.7" width="6.8" height="6.8" fill="#7f00ff"/>
<rect x="191.8" y="262.6" width="6.8" height="6.8" fill="#7f00ff"/>
<rect x="60.1" y="280.1" width="6.8" height="6.8" fill="#7f00ff"/>
<rect x="60.7" y="297.8" width="6.8" height="6.8" fill="#7f00ff"/>
<rect x="71.2" y="311.7" width="6.8" height="6.8" fill="#7f00ff"/>
<rect x="88.1" y="317.9" width="6.8" height="6.8" fill="#7f00ff"/>
<rect x="103.6" y="318.7" width="6.8" height="6.8" fill="#7f00ff"/>
<rect x="117.1" y="313.6" width="6.8" height="6.8" fill="#7f00ff"/>
<rect x="126" y="309.9" width="6.8" height="6.8" fill="#7f00ff"/>
<rect x="133" y="307.4" width="6.8" height="6.8" fill="#7f00ff"/>
<rect x="142.1" y="307.9" width="6.8" height="6.8" fill="#7f00ff"/>
<rect x="156.1" y="310.3" width="6.8" height="6.8" fill="#7f00ff"/>
<rect x="173.4" y="307.7" width="6.8" height="6.8" fill="#7f00ff"/>
<rect x="186.3" y="296.2" width="6.8" height="6.8" fill="#7f00ff"/>
<rect x="194.7" y="280.1" width="6.8" height="6.8" fill="#7f00ff"/>
<rect x="191.2" y="263.8" width="6.8" height="6.8" fill="#7f00ff"/>
<circle cx="80.1" cy="255.1" r="3.8" fill="#33a86a" />
<circle cx="89.8" cy="250.8" r="3.8" fill="#33a86a" />
<circle cx="103.5" cy="253.1" r="3.8" fill="#33a86a" />
<circle cx="113.7" cy="257.4" r="3.8" fill="#33a86a" />
<circle cx="120.7" cy="261.3" r="3.8" fill="#33a86a" />
<circle cx="72.3" cy="263.3" r="3.8" fill="#33a86a" />
<circle cx="62.2" cy="271.8" r="3.8" fill="#33a86a" />
<circle cx="126.6" cy="267.4" r="3.8" fill="#33a86a" />
<circle cx="130.1" cy="268.3" r="3.8" fill="#33a86a" />
<circle cx="131.5" cy="268" r="3.8" fill="#33a86a" />
<circle cx="135" cy="266.2" r="3.8" fill="#33a86a" />
<circle cx="140.8" cy="263.3" r="3.8" fill="#33a86a" />
<circle cx="147.3" cy="262.1" r="3.8" fill="#33a86a" />
<circle cx="156" cy="261.3" r="3.8" fill="#33a86a" />
<circle cx="168.3" cy="261.3" r="3.8" fill="#33a86a" />
<circle cx="178.8" cy="266.2" r="3.8" fill="#33a86a" />
<circle cx="185.8" cy="273.4" r="3.8" fill="#33a86a" />
<circle cx="194.6" cy="283.5" r="3.8" fill="#33a86a" />
<circle cx="191.3" cy="294.3" r="3.8" fill="#33a86a" />
<circle cx="187.8" cy="304.7" r="3.8" fill="#33a86a" />
<circle cx="179.6" cy="312.7" r="3.8" fill="#33a86a" />
<circle cx="171.2" cy="318.6" r="3.8" fill="#33a86a" />
<circle cx="159.3" cy="319.5" r="3.8" fill="#33a86a" />
<circle cx="145.3" cy="311.1" r="3.8" fill="#33a86a" />
<circle cx="136.8" cy="305" r="3.8" fill="#33a86a" />
<circle cx="132.7" cy="299.9" r="3.8" fill="#33a86a" />
<circle cx="130.3" cy="297" r="3.8" fill="#33a86a" />
<circle cx="127.7" cy="297.5" r="3.8" fill="#33a86a" />
<circle cx="123.1" cy="299.9" r="3.8" fill="#33a86a" />
<circle cx="117.8" cy="302.8" r="3.8" fill="#33a86a" />
<circle cx="110.5" cy="306" r="3.8" fill="#33a86a" />
<circle cx="101.5" cy="306.5" r="3.8" fill="#33a86a" />
<circle cx="90.1" cy="306.4" r="3.8" fill="#33a86a" />
<circle cx="78.1" cy="302.7" r="3.8" fill="#33a86a" />
<circle cx="69.1" cy="294.3" r="3.8" fill="#33a86a" />
<circle cx="63.3" cy="283.5" r="3.8" fill="#33a86a" />
<circle cx="125.5" cy="266.5" r="3.8" fill="#33a86a" />
<circle cx="128" cy="268.6" r="3.8" fill="#33a86a" />
<circle cx="133.6" cy="267.5" r="3.8" fill="#33a86a" />
<rect x="187.5" y="200.4" width="28.6" height="25.8" fill="#fff" stroke="#bbb" stroke-width="0.8"/>
<rect x="190.5" y="204.2" width="6.8" height="6.8" fill="#7f00ff"/>
<circle cx="193.9" cy="219.2" r="3.8" fill="#33a86a" />
<text transform="translate(201,210.6) scale(1.03,1)" font-size="8.8" fill="#222" >#1</text>
<text transform="translate(201,222.2) scale(1.03,1)" font-size="8.8" fill="#222" >#2</text>
<line x1="32.8" y1="207.3" x2="32.8" y2="274.2" stroke="#222" stroke-width="1.1" />
<line x1="32.8" y1="274.74" x2="34.5" y2="274.74" stroke="#222" stroke-width="0.9" />
<line x1="32.8" y1="265.68" x2="35.8" y2="265.68" stroke="#222" stroke-width="0.9" />
<text transform="translate(28.2,269.28) scale(1.03,1)" font-size="10" text-anchor="end" fill="#222" >10</text>
<line x1="32.8" y1="256.62" x2="34.5" y2="256.62" stroke="#222" stroke-width="0.9" />
<line x1="32.8" y1="247.56" x2="35.8" y2="247.56" stroke="#222" stroke-width="0.9" />
<text transform="translate(28.2,251.16) scale(1.03,1)" font-size="10" text-anchor="end" fill="#222" >20</text>
<line x1="32.8" y1="238.5" x2="34.5" y2="238.5" stroke="#222" stroke-width="0.9" />
<line x1="32.8" y1="229.44" x2="35.8" y2="229.44" stroke="#222" stroke-width="0.9" />
<text transform="translate(28.2,233.04) scale(1.03,1)" font-size="10" text-anchor="end" fill="#222" >30</text>
<line x1="32.8" y1="220.38" x2="34.5" y2="220.38" stroke="#222" stroke-width="0.9" />
<line x1="32.8" y1="211.32" x2="35.8" y2="211.32" stroke="#222" stroke-width="0.9" />
<text transform="translate(28.2,214.92) scale(1.03,1)" font-size="10" text-anchor="end" fill="#222" >40</text>
<text transform="translate(10.6,242.2) rotate(-90) scale(1.03,1)" font-size="10" text-anchor="middle" fill="#222"><tspan font-style="italic">I</tspan><tspan font-size="7.6" dy="2.4">sc</tspan><tspan dy="-2.4"> (nA)</tspan></text>
<text x="-0.5" y="206.5" font-size="14" font-weight="bold" fill="#000" >d</text>
<defs><linearGradient id="spec" x1="270.7" x2="450.9" y1="0" y2="0" gradientUnits="userSpaceOnUse"><stop offset="0" stop-color="#7750e6"/><stop offset="0.028" stop-color="#4a7ef0"/><stop offset="0.06" stop-color="#30bde8"/><stop offset="0.084" stop-color="#80e0c0"/><stop offset="0.107" stop-color="#f2f282"/><stop offset="0.126" stop-color="#f8dca0"/><stop offset="0.142" stop-color="#f9baa8"/><stop offset="0.16" stop-color="#faa8a8"/><stop offset="0.6" stop-color="#fc9696"/><stop offset="1" stop-color="#ff7f7f"/></linearGradient></defs>
<rect x="270.7" y="199.5" width="180.2" height="13.2" fill="url(#spec)"/>
<polyline points="281.2,215.5 281.5,232 283.6,258 284.6,270 289.5,296 290.2,304 292.5,307 294,304 296,309 298.2,316" fill="none" stroke="#c9c9c9" stroke-width="1.2" stroke-linejoin="round"/>
<polyline points="271.2,215.4 273.5,215.6 274.6,220 275.3,232 276.8,245 277.5,270 278.9,303 280.3,320 281.6,344" fill="none" stroke="#3aa86c" stroke-width="1.2" stroke-linejoin="round"/>
<polyline points="276.4,215.6 277.4,217.5 277.6,232 278.5,245 279.2,270 281.4,291 281.8,303 282.2,311 283.2,298.5 284.2,305 285,320 285.8,344" fill="none" stroke="#22c8d2" stroke-width="1.2" stroke-linejoin="round"/>
<polyline points="274.2,218.5 276.2,216.4 276.9,222 279,225.5 281.2,227 282.7,232 283.3,250 284.2,262 287.7,272.4 291.5,292 293.4,301 295,306 296.9,311.5" fill="none" stroke="#4a8ee8" stroke-width="1.2" stroke-linejoin="round"/>
<polyline points="282,215.5 284.3,232 286.8,240 288.6,250.5 291.2,251.8 292.5,260.1 294.3,270 298,287 301.7,303 303,312" fill="none" stroke="#b07ee8" stroke-width="1.2" stroke-linejoin="round"/>
<polyline points="271.2,215.3 280.6,215.3 282.2,219 284.9,220.3 287,222 289.1,227 290.7,232 293.8,240 296.5,252 299.1,266.3 301.5,280 303.5,300 305.7,320 307.4,344" fill="none" stroke="#f9a352" stroke-width="1.2" stroke-linejoin="round"/>
<polyline points="283.3,215.3 291.7,215.5 292.8,218 293,232 293.4,250 293.6,270 295.8,303 297.8,344" fill="none" stroke="#f78cf7" stroke-width="1.2" stroke-linejoin="round"/>
<polyline points="294.6,215 295.2,217 295.4,232 297.3,255 299.5,270 302,300 302.8,320 303.2,344" fill="none" stroke="#16908e" stroke-width="1.2" stroke-linejoin="round"/>
<polyline points="291.2,216 295.4,216.5 297.6,218.5 298.3,222 298.6,250 300.2,270 302.6,300 303.8,330 304.2,344" fill="none" stroke="#d6a42a" stroke-width="1.2" stroke-linejoin="round"/>
<polyline points="285.9,215.5 287.13,216.84 288.91,218.75 290.78,220.91 292.3,223 293.34,225.11 294.15,227.34 294.81,229.41 295.4,231 295.88,231.99 296.24,232.55 296.57,232.84 297,233 297.58,232.97 298.23,232.71 298.9,232.4 299.5,232.2 299.96,232.13 300.33,232.09 300.76,232.16 301.4,232.4 302.37,232.89 303.56,233.59 304.77,234.31 305.8,234.9 306.56,235.33 307.18,235.69 307.76,235.96 308.4,236.1 309.16,236.03 309.98,235.8 310.78,235.57 311.5,235.5 312.08,235.62 312.58,235.86 313.06,236.21 313.6,236.7 314.21,237.34 314.86,238.12 315.55,239.02 316.3,240 317.08,241.09 317.89,242.28 318.78,243.54 319.8,244.8 320.98,245.99 322.28,247.15 323.67,248.44 325.1,250 326.62,251.89 328.24,254.03 329.84,256.35 331.3,258.8 332.55,261.34 333.68,264.02 334.76,266.88 335.9,270 337.12,273.37 338.38,276.97 339.65,280.81 340.9,284.9 342.22,289.41 343.6,294.29 344.85,299.19 345.8,303.8 346.32,307.79 346.54,311.41 346.64,315.2 346.8,319.7 347.07,325.75 347.36,332.84 347.62,339.44 347.8,344" fill="none" stroke="#8a5a58" stroke-width="1.2" stroke-linejoin="round"/>
<polyline points="281.1,247.4 285.5,247.4 286.5,240.6 290,240.3" fill="none" stroke="#f51d1d" stroke-width="1.3" />
<polyline points="290,240.3 290.63,240.34 291.55,240.44 292.59,240.5 293.59,240.45 294.4,240.2 294.98,239.73 295.44,239.09 295.83,238.33 296.2,237.45 296.6,236.5 297.03,235.38 297.46,234.06 297.89,232.7 298.33,231.43 298.8,230.4 299.29,229.59 299.79,228.9 300.31,228.36 300.85,227.99 301.4,227.8 301.99,227.82 302.61,228.04 303.24,228.42 303.84,228.92 304.4,229.5 304.89,230.24 305.34,231.16 305.76,232.15 306.17,233.1 306.6,233.9 307.03,234.54 307.46,235.09 307.88,235.56 308.33,235.96 308.8,236.3 309.32,236.57 309.87,236.77 310.44,236.9 310.99,236.98 311.5,237 311.95,237.05 312.35,237.11 312.75,237.09 313.15,236.85 313.6,236.3 314.1,235.33 314.64,234.03 315.2,232.53 315.76,230.97 316.3,229.5 316.83,228.06 317.35,226.57 317.86,225.09 318.38,223.7 318.9,222.5 319.41,221.47 319.9,220.57 320.4,219.8 320.92,219.14 321.5,218.6 322.16,218.2 322.87,217.94 323.61,217.79 324.34,217.72 325,217.7 325.57,217.81 326.08,218.06 326.57,218.35 327.1,218.56 327.7,218.6 328.4,218.36 329.17,217.92 329.98,217.41 330.8,216.99 331.6,216.8 332.38,216.93 333.16,217.28 333.93,217.71 334.71,218.1 335.5,218.3 336.31,218.21 337.14,217.93 337.97,217.6 338.76,217.38 339.5,217.4 340.15,217.72 340.74,218.23 341.3,218.87 341.87,219.58 342.5,220.3 343.2,221.21 343.93,222.35 344.69,223.44 345.45,224.22 346.2,224.4 346.95,223.77 347.7,222.51 348.45,220.95 349.19,219.41 349.9,218.2 350.58,217.28 351.24,216.44 351.88,215.74 352.53,215.27 353.2,215.1 353.89,215.21 354.58,215.55 355.28,216.14 355.99,217.02 356.7,218.2 357.41,219.88 358.11,222.05 358.82,224.4 359.55,226.65 360.3,228.5 361.1,229.94 361.95,231.17 362.81,232.2 363.64,233.04 364.4,233.7 365.03,234.16 365.56,234.41 366.08,234.48 366.7,234.41 367.5,234.2 368.54,233.78 369.76,233.13 371.07,232.38 372.41,231.66 373.7,231.1 374.94,230.69 376.18,230.35 377.42,230.08 378.66,229.9 379.9,229.8 381.17,229.82 382.48,229.95 383.77,230.16 384.99,230.39 386.1,230.6 387.05,230.76 387.87,230.9 388.62,231.07 389.38,231.32 390.2,231.7 391.07,232.18 391.95,232.73 392.86,233.4 393.8,234.24 394.8,235.3 395.86,236.68 396.98,238.33 398.13,240.13 399.31,241.94 400.5,243.6 401.73,245.16 403,246.71 404.28,248.2 405.52,249.58 406.7,250.8 407.79,251.85 408.81,252.76 409.81,253.55 410.79,254.26 411.8,254.9 412.85,255.43 413.93,255.84 414.99,256.18 416.03,256.55 417,257 417.9,257.54 418.74,258.13 419.55,258.75 420.33,259.41 421.1,260.1 421.87,260.81 422.64,261.55 423.38,262.32 424.07,263.14 424.7,264 425.18,264.77 425.53,265.45 425.87,266.24 426.32,267.36 427,269 427.98,271.3 429.18,274.12 430.49,277.27 431.83,280.56 433.1,283.8 434.33,287.02 435.58,290.35 436.82,293.74 437.97,297.14 439,300.5 439.89,303.82 440.66,307.14 441.36,310.46 441.99,313.78 442.6,317.1 443.18,320.54 443.73,324.08 444.22,327.58 444.65,330.87 445,333.8 445.26,336.42 445.44,338.84 445.55,340.97 445.63,342.72 445.7,344" fill="none" stroke="#f51d1d" stroke-width="1.3" stroke-linejoin="round"/>
<rect x="270.7" y="199.5" width="180.2" height="144.5" fill="none" stroke="#2a2a2a" stroke-width="1.1"/>
<line x1="270.7" y1="212.7" x2="450.9" y2="212.7" stroke="#ffffff" stroke-width="0.0" />
<line x1="270.7" y1="215.4" x2="273.7" y2="215.4" stroke="#2a2a2a" stroke-width="0.9" />
<line x1="270.7" y1="254.4" x2="272.3" y2="254.4" stroke="#2a2a2a" stroke-width="0.8" />
<line x1="270.7" y1="244.58" x2="272.3" y2="244.58" stroke="#2a2a2a" stroke-width="0.8" />
<line x1="270.7" y1="237.61" x2="272.3" y2="237.61" stroke="#2a2a2a" stroke-width="0.8" />
<line x1="270.7" y1="232.2" x2="272.3" y2="232.2" stroke="#2a2a2a" stroke-width="0.8" />
<line x1="270.7" y1="227.78" x2="272.3" y2="227.78" stroke="#2a2a2a" stroke-width="0.8" />
<line x1="270.7" y1="224.04" x2="272.3" y2="224.04" stroke="#2a2a2a" stroke-width="0.8" />
<line x1="270.7" y1="220.81" x2="272.3" y2="220.81" stroke="#2a2a2a" stroke-width="0.8" />
<line x1="270.7" y1="217.95" x2="272.3" y2="217.95" stroke="#2a2a2a" stroke-width="0.8" />
<line x1="270.7" y1="271.2" x2="273.7" y2="271.2" stroke="#2a2a2a" stroke-width="0.9" />
<line x1="270.7" y1="310.2" x2="272.3" y2="310.2" stroke="#2a2a2a" stroke-width="0.8" />
<line x1="270.7" y1="300.38" x2="272.3" y2="300.38" stroke="#2a2a2a" stroke-width="0.8" />
<line x1="270.7" y1="293.41" x2="272.3" y2="293.41" stroke="#2a2a2a" stroke-width="0.8" />
<line x1="270.7" y1="288" x2="272.3" y2="288" stroke="#2a2a2a" stroke-width="0.8" />
<line x1="270.7" y1="283.58" x2="272.3" y2="283.58" stroke="#2a2a2a" stroke-width="0.8" />
<line x1="270.7" y1="279.84" x2="272.3" y2="279.84" stroke="#2a2a2a" stroke-width="0.8" />
<line x1="270.7" y1="276.61" x2="272.3" y2="276.61" stroke="#2a2a2a" stroke-width="0.8" />
<line x1="270.7" y1="273.75" x2="272.3" y2="273.75" stroke="#2a2a2a" stroke-width="0.8" />
<line x1="270.7" y1="327" x2="273.7" y2="327" stroke="#2a2a2a" stroke-width="0.9" />
<line x1="270.7" y1="339.38" x2="272.3" y2="339.38" stroke="#2a2a2a" stroke-width="0.8" />
<line x1="270.7" y1="335.64" x2="272.3" y2="335.64" stroke="#2a2a2a" stroke-width="0.8" />
<line x1="270.7" y1="332.41" x2="272.3" y2="332.41" stroke="#2a2a2a" stroke-width="0.8" />
<line x1="270.7" y1="329.55" x2="272.3" y2="329.55" stroke="#2a2a2a" stroke-width="0.8" />
<line x1="285" y1="344" x2="285" y2="342.4" stroke="#2a2a2a" stroke-width="1" />
<line x1="308" y1="344" x2="308" y2="341" stroke="#2a2a2a" stroke-width="1" />
<text transform="translate(308,356.6) scale(1.03,1)" font-size="10" text-anchor="middle" fill="#222" >1</text>
<line x1="331" y1="344" x2="331" y2="342.4" stroke="#2a2a2a" stroke-width="1" />
<line x1="354" y1="344" x2="354" y2="341" stroke="#2a2a2a" stroke-width="1" />
<text transform="translate(354,356.6) scale(1.03,1)" font-size="10" text-anchor="middle" fill="#222" >2</text>
<line x1="377" y1="344" x2="377" y2="342.4" stroke="#2a2a2a" stroke-width="1" />
<line x1="400" y1="344" x2="400" y2="341" stroke="#2a2a2a" stroke-width="1" />
<text transform="translate(400,356.6) scale(1.03,1)" font-size="10" text-anchor="middle" fill="#222" >3</text>
<line x1="423" y1="344" x2="423" y2="342.4" stroke="#2a2a2a" stroke-width="1" />
<line x1="446" y1="344" x2="446" y2="341" stroke="#2a2a2a" stroke-width="1" />
<text transform="translate(446,356.6) scale(1.03,1)" font-size="10" text-anchor="middle" fill="#222" >4</text>
<text transform="translate(308.3,356.6) scale(1.03,1)" font-size="10" fill="#222" ></text>
<text transform="translate(273.2,210.9) scale(1.03,1)" font-size="8.8" fill="#111" >UV</text>
<text transform="translate(290.6,210.9) scale(1.03,1)" font-size="8.8" fill="#111" >VIS</text>
<text transform="translate(364.6,210.3) scale(1.03,1)" font-size="8.8" fill="#111" >IR</text>
<text transform="translate(310.1,260.7) scale(1.03,1)" font-size="8.8" fill="#f78cf7">MoS<tspan font-size="6.2" dy="2.2">2</tspan></text>
<text transform="translate(310.1,270.8) scale(1.03,1)" font-size="8.8" fill="#b07ee8">WS<tspan font-size="6.2" dy="2.2">2</tspan></text>
<text transform="translate(310.1,282.2) scale(1.03,1)" font-size="8.8" fill="#22c8d2" >PZTO</text>
<text transform="translate(310.1,291.6) scale(1.03,1)" font-size="8.8" fill="#4a8ee8" >OMPH</text>
<text transform="translate(310.1,301.9) scale(1.03,1)" font-size="8.8" fill="#d6a42a" >MPI</text>
<text transform="translate(310.1,311.7) scale(1.03,1)" font-size="8.8" fill="#16908e" >KBNNO</text>
<text transform="translate(310.1,322) scale(1.03,1)" font-size="8.8" fill="#c9c9c9" >BFO</text>
<text transform="translate(310.1,331.7) scale(1.03,1)" font-size="8.8" fill="#f9a352" >BFCO</text>
<text transform="translate(310.1,341) scale(1.03,1)" font-size="8.8" fill="#3aa86c" >BTO</text>
<text transform="translate(351.8,332) scale(1.03,1)" font-size="8.8" fill="#8a5a58" >TTF-CA</text>
<text transform="translate(374.3,275.8) scale(1.03,1)" font-size="8.8" fill="#f51d1d" >Te (this work)</text>
<text transform="translate(360.7,372.2) scale(1.03,1)" font-size="10" text-anchor="middle" fill="#222" >Wavelength (μm)</text>
<text transform="translate(261.6,271.9) rotate(-90) scale(1.03,1)" font-size="10" text-anchor="middle" fill="#222">Intensity (a.u.)</text>
<text x="236" y="205.6" font-size="14" font-weight="bold" fill="#000" >e</text>
<polyline points="510.5,270.4 560,248.9 590,236.4 606.3,230.4 684,202.4" fill="none" stroke="#f5141c" stroke-width="1.2" stroke-dasharray="3,2"/>
<line x1="540" y1="333.7" x2="622.8" y2="308.4" stroke="#20c8d0" stroke-width="1.2" stroke-dasharray="3.5,2.5"/>
<line x1="569" y1="333.4" x2="623.4" y2="320.6" stroke="#38a868" stroke-width="1.2" stroke-dasharray="3.5,2.5"/>
<circle cx="512.4" cy="269.5" r="2.9" fill="#f5141c" />
<circle cx="517.6" cy="267.3" r="2.9" fill="#f5141c" />
<circle cx="528" cy="262.7" r="2.9" fill="#f5141c" />
<circle cx="532.3" cy="260.5" r="2.9" fill="#f5141c" />
<circle cx="538" cy="257.9" r="2.9" fill="#f5141c" />
<circle cx="549.4" cy="252.7" r="2.9" fill="#f5141c" />
<circle cx="561" cy="248" r="2.9" fill="#f5141c" />
<circle cx="564.6" cy="246.4" r="2.9" fill="#f5141c" />
<circle cx="572.7" cy="243" r="2.9" fill="#f5141c" />
<circle cx="578.6" cy="241" r="2.9" fill="#f5141c" />
<circle cx="582.6" cy="239.2" r="2.9" fill="#f5141c" />
<circle cx="590.4" cy="236" r="2.9" fill="#f5141c" />
<circle cx="592.8" cy="235.8" r="2.9" fill="#f5141c" />
<circle cx="596.8" cy="234.3" r="2.9" fill="#f5141c" />
<circle cx="601.2" cy="232.5" r="2.9" fill="#f5141c" />
<circle cx="603.8" cy="231.6" r="2.9" fill="#f5141c" />
<polygon points="568.2,258.04 571.43,260.39 570.2,264.19 566.2,264.19 564.97,260.39" fill="#f5a3cf" stroke="none" stroke-width="1" />
<rect x="573.1" y="255.9" width="4.8" height="4.8" fill="#8420f0"/>
<polygon points="623.1,240.5 626.48,234.65 619.72,234.65" fill="#a66ee6" stroke="none" stroke-width="1" />
<polygon points="613.6,245 617.06,239 610.14,239" fill="#fff" stroke="#6e6e6e" stroke-width="0.9" />
<polygon points="615.51,241.7 617.06,239 610.14,239 611.69,241.7" fill="#6e6e6e" stroke="none" stroke-width="1" />
<polygon points="677.3,218.76 680.72,221.25 679.42,225.27 675.18,225.27 673.88,221.25" fill="#7b5050" stroke="none" stroke-width="1" />
<polygon points="650.3,236.5 654.2,240.4 650.3,244.3 646.4,240.4" fill="#168b86" stroke="none" stroke-width="1" />
<polygon points="644.5,240.16 647.92,242.65 646.62,246.67 642.38,246.67 641.08,242.65" fill="#4f8fea" stroke="none" stroke-width="1" />
<polygon points="551.7,264.1 555.25,270.25 548.15,270.25" fill="#fff" stroke="#d4a020" stroke-width="0.9" />
<polygon points="551.7,264.1 554.33,268.65 549.07,268.65" fill="#d4a020" stroke="none" stroke-width="1" />
<polygon points="551.6,270.5 555.6,274.5 551.6,278.5 547.6,274.5" fill="#fff" stroke="#22c6cc" stroke-width="0.9" />
<polygon points="551.6,270.5 555.6,274.5 554.64,275.46 548.56,275.46 547.6,274.5" fill="#22c6cc" stroke="none" stroke-width="1" />
<polygon points="555.9,275.2 559.9,279.2 555.9,283.2 551.9,279.2" fill="#fff" stroke="#22c6cc" stroke-width="0.9" />
<polygon points="555.9,275.2 559.9,279.2 558.94,280.16 552.86,280.16 551.9,279.2" fill="#22c6cc" stroke="none" stroke-width="1" />
<polygon points="579.6,278.5 582.63,280.25 582.63,283.75 579.6,285.5 576.57,283.75 576.57,280.25" fill="#f9b272" stroke="none" stroke-width="1" />
<polygon points="562.6,296.3 565.98,290.45 559.22,290.45" fill="#707070" stroke="none" stroke-width="1" />
<polygon points="537.4,288.4 540.86,294.4 533.94,294.4" fill="#d4a020" stroke="none" stroke-width="1" />
<polygon points="572.5,304.3 566.65,300.92 566.65,307.68" fill="#fff" stroke="#30a860" stroke-width="0.9" />
<polygon points="572.5,304.3 566.65,300.92 566.65,304.98 571.33,304.98" fill="#30a860" stroke="none" stroke-width="1" />
<polygon points="547.7,312.8 553.55,309.42 553.55,316.18" fill="#a87474" stroke="none" stroke-width="1" />
<polygon points="518.7,319.4 519.64,321.91 522.31,322.03 520.22,323.69 520.93,326.27 518.7,324.8 516.47,326.27 517.18,323.69 515.09,322.03 517.76,321.91" fill="#14807e" stroke="none" stroke-width="1" />
<defs><radialGradient id="sph" cx="0.38" cy="0.35" r="0.7"><stop offset="0" stop-color="#cfe0ff"/><stop offset="0.35" stop-color="#5a8ff0"/><stop offset="1" stop-color="#2050c8"/></radialGradient></defs>
<circle cx="549.4" cy="326.3" r="2.9" fill="url(#sph)" />
<polygon points="540,329.8 543.9,333.7 540,337.6 536.1,333.7" fill="#20c8d0" stroke="none" stroke-width="1" />
<polygon points="622.8,304.5 626.7,308.4 622.8,312.3 618.9,308.4" fill="#20c8d0" stroke="none" stroke-width="1" />
<polygon points="573.1,333.4 567.25,330.02 567.25,336.78" fill="#34a866" stroke="none" stroke-width="1" />
<polygon points="627.5,320.6 621.65,317.22 621.65,323.98" fill="#34a866" stroke="none" stroke-width="1" />
<text transform="translate(535,250.3) rotate(-17.2) scale(1.03,1)" font-size="5.8" fill="#f5141c" stroke="#f5141c" stroke-width="0.14">Te@1.31μm (This work)</text>
<text transform="translate(552.2,259.4) rotate(-16.1) scale(1.03,1)" font-size="5.7" fill="#f5a3cf" stroke="#f5a3cf" stroke-width="0.14">MoS<tspan font-size="4.2" dy="1.3">2</tspan><tspan dy="-1.3">@638nm</tspan></text>
<text transform="translate(560,273.7) rotate(-15.2) scale(1.03,1)" font-size="5.7" fill="#8420f0" stroke="#8420f0" stroke-width="0.14">WS<tspan font-size="4.2" dy="1.3">2</tspan><tspan dy="-1.3">@632nm</tspan></text>
<text transform="translate(515.6,282.8) rotate(-19.5) scale(1.03,1)" font-size="5.7" fill="#d4a020" stroke="#d4a020" stroke-width="0.14">MPbI@VIS</text>
<text transform="translate(522.4,292.1) rotate(-22) scale(1.03,1)" font-size="5.7" fill="#22c6cc" stroke="#22c6cc" stroke-width="0.14">PZTO@UV</text>
<text transform="translate(584.7,282.7) rotate(-15.5) scale(1.03,1)" font-size="5.7" fill="#f9b272" stroke="#f9b272" stroke-width="0.14">BFCO@635nm</text>
<text transform="translate(566,297.6) rotate(-15) scale(1.03,1)" font-size="5.7" fill="#707070" stroke="#707070" stroke-width="0.14">BFO@405nm</text>
<text transform="translate(575,307.3) rotate(-12.5) scale(1.03,1)" font-size="5.7" fill="#30a860" stroke="#30a860" stroke-width="0.14">BTO@360nm</text>
<text transform="translate(512.2,308.1) rotate(-18.9) scale(1.03,1)" font-size="5.7" fill="#d4a020" stroke="#d4a020" stroke-width="0.14">MPbI@VIS</text>
<text transform="translate(522,317.4) rotate(-20.8) scale(1.03,1)" font-size="5.7" fill="#b07c7c" stroke="#b07c7c" stroke-width="0.14">TTF-CA@VIS</text>
<text transform="translate(508.9,333.2) rotate(-14.5) scale(1.03,1)" font-size="5.7" fill="#14807e" stroke="#14807e" stroke-width="0.14">KBNNO@UV</text>
<text transform="translate(554.3,324.6) rotate(-14.5) scale(1.03,1)" font-size="5.7" fill="#3a78e8" stroke="#3a78e8" stroke-width="0.14">OMPH@450nm</text>
<text transform="translate(582.8,325.9) rotate(-16.5) scale(1.03,1)" font-size="5.7" fill="#20c8d0" stroke="#20c8d0" stroke-width="0.14">PZTO@UV</text>
<text transform="translate(584.1,337.6) rotate(-14) scale(1.03,1)" font-size="5.7" fill="#34a866" stroke="#34a866" stroke-width="0.14">BTO@360nm</text>
<text transform="translate(611.6,235) rotate(-14) scale(1.03,1)" font-size="5.7" fill="#a66ee6" stroke="#a66ee6" stroke-width="0.14">BP/WSe<tspan font-size="4.2" dy="1.3">2</tspan><tspan dy="-1.3">@532nm</tspan></text>
<text transform="translate(640.2,237.6) rotate(-19.5) scale(1.03,1)" font-size="5.7" fill="#7b5050" stroke="#7b5050" stroke-width="0.14">TaAs@10μm</text>
<text transform="translate(597.4,254.3) rotate(-16.3) scale(1.03,1)" font-size="5.7" fill="#707070" stroke="#707070" stroke-width="0.14">BFO@405nm</text>
<text transform="translate(605.8,260.1) rotate(-16.9) scale(1.03,1)" font-size="5.7" fill="#4f8fea" stroke="#4f8fea" stroke-width="0.14">TaIrTe<tspan font-size="4.2" dy="1.3">4</tspan><tspan dy="-1.3">@4μm</tspan></text>
<text transform="translate(632.4,259.4) rotate(-18.9) scale(1.03,1)" font-size="5.7" fill="#168b86" stroke="#168b86" stroke-width="0.14">3R-MoS<tspan font-size="4.2" dy="1.3">2</tspan><tspan dy="-1.3">@830nm</tspan></text>
<rect x="504.5" y="199.5" width="179.9" height="144.7" fill="none" stroke="#2a2a2a" stroke-width="1.1"/>
<line x1="504.5" y1="341.05" x2="505.9" y2="341.05" stroke="#2a2a2a" stroke-width="0.7" />
<line x1="504.5" y1="339.23" x2="505.9" y2="339.23" stroke="#2a2a2a" stroke-width="0.7" />
<line x1="504.5" y1="337.94" x2="505.9" y2="337.94" stroke="#2a2a2a" stroke-width="0.7" />
<line x1="504.5" y1="336.94" x2="505.9" y2="336.94" stroke="#2a2a2a" stroke-width="0.7" />
<line x1="504.5" y1="336.12" x2="505.9" y2="336.12" stroke="#2a2a2a" stroke-width="0.7" />
<line x1="504.5" y1="335.43" x2="505.9" y2="335.43" stroke="#2a2a2a" stroke-width="0.7" />
<line x1="504.5" y1="334.83" x2="505.9" y2="334.83" stroke="#2a2a2a" stroke-width="0.7" />
<line x1="504.5" y1="334.3" x2="505.9" y2="334.3" stroke="#2a2a2a" stroke-width="0.7" />
<text transform="translate(501,347.86) scale(1.03,1)" font-size="10" text-anchor="end" fill="#222">10<tspan font-size="7.6" dy="-4.2">−9</tspan></text>
<line x1="504.5" y1="333.83" x2="507.1" y2="333.83" stroke="#2a2a2a" stroke-width="0.7" />
<line x1="504.5" y1="330.72" x2="505.9" y2="330.72" stroke="#2a2a2a" stroke-width="0.7" />
<line x1="504.5" y1="328.9" x2="505.9" y2="328.9" stroke="#2a2a2a" stroke-width="0.7" />
<line x1="504.5" y1="327.61" x2="505.9" y2="327.61" stroke="#2a2a2a" stroke-width="0.7" />
<line x1="504.5" y1="326.61" x2="505.9" y2="326.61" stroke="#2a2a2a" stroke-width="0.7" />
<line x1="504.5" y1="325.79" x2="505.9" y2="325.79" stroke="#2a2a2a" stroke-width="0.7" />
<line x1="504.5" y1="325.1" x2="505.9" y2="325.1" stroke="#2a2a2a" stroke-width="0.7" />
<line x1="504.5" y1="324.5" x2="505.9" y2="324.5" stroke="#2a2a2a" stroke-width="0.7" />
<line x1="504.5" y1="323.97" x2="505.9" y2="323.97" stroke="#2a2a2a" stroke-width="0.7" />
<line x1="504.5" y1="323.5" x2="507.1" y2="323.5" stroke="#2a2a2a" stroke-width="0.7" />
<line x1="504.5" y1="320.39" x2="505.9" y2="320.39" stroke="#2a2a2a" stroke-width="0.7" />
<line x1="504.5" y1="318.57" x2="505.9" y2="318.57" stroke="#2a2a2a" stroke-width="0.7" />
<line x1="504.5" y1="317.28" x2="505.9" y2="317.28" stroke="#2a2a2a" stroke-width="0.7" />
<line x1="504.5" y1="316.28" x2="505.9" y2="316.28" stroke="#2a2a2a" stroke-width="0.7" />
<line x1="504.5" y1="315.46" x2="505.9" y2="315.46" stroke="#2a2a2a" stroke-width="0.7" />
<line x1="504.5" y1="314.77" x2="505.9" y2="314.77" stroke="#2a2a2a" stroke-width="0.7" />
<line x1="504.5" y1="314.17" x2="505.9" y2="314.17" stroke="#2a2a2a" stroke-width="0.7" />
<line x1="504.5" y1="313.64" x2="505.9" y2="313.64" stroke="#2a2a2a" stroke-width="0.7" />
<text transform="translate(501,327.2) scale(1.03,1)" font-size="10" text-anchor="end" fill="#222">10<tspan font-size="7.6" dy="-4.2">−7</tspan></text>
<line x1="504.5" y1="313.17" x2="507.1" y2="313.17" stroke="#2a2a2a" stroke-width="0.7" />
<line x1="504.5" y1="310.06" x2="505.9" y2="310.06" stroke="#2a2a2a" stroke-width="0.7" />
<line x1="504.5" y1="308.24" x2="505.9" y2="308.24" stroke="#2a2a2a" stroke-width="0.7" />
<line x1="504.5" y1="306.95" x2="505.9" y2="306.95" stroke="#2a2a2a" stroke-width="0.7" />
<line x1="504.5" y1="305.95" x2="505.9" y2="305.95" stroke="#2a2a2a" stroke-width="0.7" />
<line x1="504.5" y1="305.13" x2="505.9" y2="305.13" stroke="#2a2a2a" stroke-width="0.7" />
<line x1="504.5" y1="304.44" x2="505.9" y2="304.44" stroke="#2a2a2a" stroke-width="0.7" />
<line x1="504.5" y1="303.84" x2="505.9" y2="303.84" stroke="#2a2a2a" stroke-width="0.7" />
<line x1="504.5" y1="303.31" x2="505.9" y2="303.31" stroke="#2a2a2a" stroke-width="0.7" />
<line x1="504.5" y1="302.84" x2="507.1" y2="302.84" stroke="#2a2a2a" stroke-width="0.7" />
<line x1="504.5" y1="299.73" x2="505.9" y2="299.73" stroke="#2a2a2a" stroke-width="0.7" />
<line x1="504.5" y1="297.91" x2="505.9" y2="297.91" stroke="#2a2a2a" stroke-width="0.7" />
<line x1="504.5" y1="296.62" x2="505.9" y2="296.62" stroke="#2a2a2a" stroke-width="0.7" />
<line x1="504.5" y1="295.62" x2="505.9" y2="295.62" stroke="#2a2a2a" stroke-width="0.7" />
<line x1="504.5" y1="294.8" x2="505.9" y2="294.8" stroke="#2a2a2a" stroke-width="0.7" />
<line x1="504.5" y1="294.11" x2="505.9" y2="294.11" stroke="#2a2a2a" stroke-width="0.7" />
<line x1="504.5" y1="293.51" x2="505.9" y2="293.51" stroke="#2a2a2a" stroke-width="0.7" />
<line x1="504.5" y1="292.98" x2="505.9" y2="292.98" stroke="#2a2a2a" stroke-width="0.7" />
<text transform="translate(501,306.54) scale(1.03,1)" font-size="10" text-anchor="end" fill="#222">10<tspan font-size="7.6" dy="-4.2">−5</tspan></text>
<line x1="504.5" y1="292.51" x2="507.1" y2="292.51" stroke="#2a2a2a" stroke-width="0.7" />
<line x1="504.5" y1="289.4" x2="505.9" y2="289.4" stroke="#2a2a2a" stroke-width="0.7" />
<line x1="504.5" y1="287.58" x2="505.9" y2="287.58" stroke="#2a2a2a" stroke-width="0.7" />
<line x1="504.5" y1="286.29" x2="505.9" y2="286.29" stroke="#2a2a2a" stroke-width="0.7" />
<line x1="504.5" y1="285.29" x2="505.9" y2="285.29" stroke="#2a2a2a" stroke-width="0.7" />
<line x1="504.5" y1="284.47" x2="505.9" y2="284.47" stroke="#2a2a2a" stroke-width="0.7" />
<line x1="504.5" y1="283.78" x2="505.9" y2="283.78" stroke="#2a2a2a" stroke-width="0.7" />
<line x1="504.5" y1="283.18" x2="505.9" y2="283.18" stroke="#2a2a2a" stroke-width="0.7" />
<line x1="504.5" y1="282.65" x2="505.9" y2="282.65" stroke="#2a2a2a" stroke-width="0.7" />
<line x1="504.5" y1="282.18" x2="507.1" y2="282.18" stroke="#2a2a2a" stroke-width="0.7" />
<line x1="504.5" y1="279.07" x2="505.9" y2="279.07" stroke="#2a2a2a" stroke-width="0.7" />
<line x1="504.5" y1="277.25" x2="505.9" y2="277.25" stroke="#2a2a2a" stroke-width="0.7" />
<line x1="504.5" y1="275.96" x2="505.9" y2="275.96" stroke="#2a2a2a" stroke-width="0.7" />
<line x1="504.5" y1="274.96" x2="505.9" y2="274.96" stroke="#2a2a2a" stroke-width="0.7" />
<line x1="504.5" y1="274.14" x2="505.9" y2="274.14" stroke="#2a2a2a" stroke-width="0.7" />
<line x1="504.5" y1="273.45" x2="505.9" y2="273.45" stroke="#2a2a2a" stroke-width="0.7" />
<line x1="504.5" y1="272.85" x2="505.9" y2="272.85" stroke="#2a2a2a" stroke-width="0.7" />
<line x1="504.5" y1="272.32" x2="505.9" y2="272.32" stroke="#2a2a2a" stroke-width="0.7" />
<text transform="translate(501,285.88) scale(1.03,1)" font-size="10" text-anchor="end" fill="#222">10<tspan font-size="7.6" dy="-4.2">−3</tspan></text>
<line x1="504.5" y1="271.85" x2="507.1" y2="271.85" stroke="#2a2a2a" stroke-width="0.7" />
<line x1="504.5" y1="268.74" x2="505.9" y2="268.74" stroke="#2a2a2a" stroke-width="0.7" />
<line x1="504.5" y1="266.92" x2="505.9" y2="266.92" stroke="#2a2a2a" stroke-width="0.7" />
<line x1="504.5" y1="265.63" x2="505.9" y2="265.63" stroke="#2a2a2a" stroke-width="0.7" />
<line x1="504.5" y1="264.63" x2="505.9" y2="264.63" stroke="#2a2a2a" stroke-width="0.7" />
<line x1="504.5" y1="263.81" x2="505.9" y2="263.81" stroke="#2a2a2a" stroke-width="0.7" />
<line x1="504.5" y1="263.12" x2="505.9" y2="263.12" stroke="#2a2a2a" stroke-width="0.7" />
<line x1="504.5" y1="262.52" x2="505.9" y2="262.52" stroke="#2a2a2a" stroke-width="0.7" />
<line x1="504.5" y1="261.99" x2="505.9" y2="261.99" stroke="#2a2a2a" stroke-width="0.7" />
<line x1="504.5" y1="261.52" x2="507.1" y2="261.52" stroke="#2a2a2a" stroke-width="0.7" />
<line x1="504.5" y1="258.41" x2="505.9" y2="258.41" stroke="#2a2a2a" stroke-width="0.7" />
<line x1="504.5" y1="256.59" x2="505.9" y2="256.59" stroke="#2a2a2a" stroke-width="0.7" />
<line x1="504.5" y1="255.3" x2="505.9" y2="255.3" stroke="#2a2a2a" stroke-width="0.7" />
<line x1="504.5" y1="254.3" x2="505.9" y2="254.3" stroke="#2a2a2a" stroke-width="0.7" />
<line x1="504.5" y1="253.48" x2="505.9" y2="253.48" stroke="#2a2a2a" stroke-width="0.7" />
<line x1="504.5" y1="252.79" x2="505.9" y2="252.79" stroke="#2a2a2a" stroke-width="0.7" />
<line x1="504.5" y1="252.19" x2="505.9" y2="252.19" stroke="#2a2a2a" stroke-width="0.7" />
<line x1="504.5" y1="251.66" x2="505.9" y2="251.66" stroke="#2a2a2a" stroke-width="0.7" />
<text transform="translate(501,265.22) scale(1.03,1)" font-size="10" text-anchor="end" fill="#222">10<tspan font-size="7.6" dy="-4.2">−1</tspan></text>
<line x1="504.5" y1="251.19" x2="507.1" y2="251.19" stroke="#2a2a2a" stroke-width="0.7" />
<line x1="504.5" y1="248.08" x2="505.9" y2="248.08" stroke="#2a2a2a" stroke-width="0.7" />
<line x1="504.5" y1="246.26" x2="505.9" y2="246.26" stroke="#2a2a2a" stroke-width="0.7" />
<line x1="504.5" y1="244.97" x2="505.9" y2="244.97" stroke="#2a2a2a" stroke-width="0.7" />
<line x1="504.5" y1="243.97" x2="505.9" y2="243.97" stroke="#2a2a2a" stroke-width="0.7" />
<line x1="504.5" y1="243.15" x2="505.9" y2="243.15" stroke="#2a2a2a" stroke-width="0.7" />
<line x1="504.5" y1="242.46" x2="505.9" y2="242.46" stroke="#2a2a2a" stroke-width="0.7" />
<line x1="504.5" y1="241.86" x2="505.9" y2="241.86" stroke="#2a2a2a" stroke-width="0.7" />
<line x1="504.5" y1="241.33" x2="505.9" y2="241.33" stroke="#2a2a2a" stroke-width="0.7" />
<line x1="504.5" y1="240.86" x2="507.1" y2="240.86" stroke="#2a2a2a" stroke-width="0.7" />
<line x1="504.5" y1="237.75" x2="505.9" y2="237.75" stroke="#2a2a2a" stroke-width="0.7" />
<line x1="504.5" y1="235.93" x2="505.9" y2="235.93" stroke="#2a2a2a" stroke-width="0.7" />
<line x1="504.5" y1="234.64" x2="505.9" y2="234.64" stroke="#2a2a2a" stroke-width="0.7" />
<line x1="504.5" y1="233.64" x2="505.9" y2="233.64" stroke="#2a2a2a" stroke-width="0.7" />
<line x1="504.5" y1="232.82" x2="505.9" y2="232.82" stroke="#2a2a2a" stroke-width="0.7" />
<line x1="504.5" y1="232.13" x2="505.9" y2="232.13" stroke="#2a2a2a" stroke-width="0.7" />
<line x1="504.5" y1="231.53" x2="505.9" y2="231.53" stroke="#2a2a2a" stroke-width="0.7" />
<line x1="504.5" y1="231" x2="505.9" y2="231" stroke="#2a2a2a" stroke-width="0.7" />
<text transform="translate(501,244.56) scale(1.03,1)" font-size="10" text-anchor="end" fill="#222">10<tspan font-size="7.6" dy="-4.2">1</tspan></text>
<line x1="504.5" y1="230.53" x2="507.1" y2="230.53" stroke="#2a2a2a" stroke-width="0.7" />
<line x1="504.5" y1="227.42" x2="505.9" y2="227.42" stroke="#2a2a2a" stroke-width="0.7" />
<line x1="504.5" y1="225.6" x2="505.9" y2="225.6" stroke="#2a2a2a" stroke-width="0.7" />
<line x1="504.5" y1="224.31" x2="505.9" y2="224.31" stroke="#2a2a2a" stroke-width="0.7" />
<line x1="504.5" y1="223.31" x2="505.9" y2="223.31" stroke="#2a2a2a" stroke-width="0.7" />
<line x1="504.5" y1="222.49" x2="505.9" y2="222.49" stroke="#2a2a2a" stroke-width="0.7" />
<line x1="504.5" y1="221.8" x2="505.9" y2="221.8" stroke="#2a2a2a" stroke-width="0.7" />
<line x1="504.5" y1="221.2" x2="505.9" y2="221.2" stroke="#2a2a2a" stroke-width="0.7" />
<line x1="504.5" y1="220.67" x2="505.9" y2="220.67" stroke="#2a2a2a" stroke-width="0.7" />
<line x1="504.5" y1="220.2" x2="507.1" y2="220.2" stroke="#2a2a2a" stroke-width="0.7" />
<line x1="504.5" y1="217.09" x2="505.9" y2="217.09" stroke="#2a2a2a" stroke-width="0.7" />
<line x1="504.5" y1="215.27" x2="505.9" y2="215.27" stroke="#2a2a2a" stroke-width="0.7" />
<line x1="504.5" y1="213.98" x2="505.9" y2="213.98" stroke="#2a2a2a" stroke-width="0.7" />
<line x1="504.5" y1="212.98" x2="505.9" y2="212.98" stroke="#2a2a2a" stroke-width="0.7" />
<line x1="504.5" y1="212.16" x2="505.9" y2="212.16" stroke="#2a2a2a" stroke-width="0.7" />
<line x1="504.5" y1="211.47" x2="505.9" y2="211.47" stroke="#2a2a2a" stroke-width="0.7" />
<line x1="504.5" y1="210.87" x2="505.9" y2="210.87" stroke="#2a2a2a" stroke-width="0.7" />
<line x1="504.5" y1="210.34" x2="505.9" y2="210.34" stroke="#2a2a2a" stroke-width="0.7" />
<text transform="translate(501,223.9) scale(1.03,1)" font-size="10" text-anchor="end" fill="#222">10<tspan font-size="7.6" dy="-4.2">3</tspan></text>
<line x1="504.5" y1="209.87" x2="507.1" y2="209.87" stroke="#2a2a2a" stroke-width="0.7" />
<line x1="504.5" y1="206.76" x2="505.9" y2="206.76" stroke="#2a2a2a" stroke-width="0.7" />
<line x1="504.5" y1="204.94" x2="505.9" y2="204.94" stroke="#2a2a2a" stroke-width="0.7" />
<line x1="504.5" y1="203.65" x2="505.9" y2="203.65" stroke="#2a2a2a" stroke-width="0.7" />
<line x1="504.5" y1="202.65" x2="505.9" y2="202.65" stroke="#2a2a2a" stroke-width="0.7" />
<line x1="504.5" y1="201.83" x2="505.9" y2="201.83" stroke="#2a2a2a" stroke-width="0.7" />
<line x1="504.5" y1="201.14" x2="505.9" y2="201.14" stroke="#2a2a2a" stroke-width="0.7" />
<line x1="504.5" y1="200.54" x2="505.9" y2="200.54" stroke="#2a2a2a" stroke-width="0.7" />
<line x1="504.5" y1="200.01" x2="505.9" y2="200.01" stroke="#2a2a2a" stroke-width="0.7" />
<text transform="translate(501,203.24) scale(1.03,1)" font-size="10" text-anchor="end" fill="#222">10<tspan font-size="7.6" dy="-4.2">5</tspan></text>
<line x1="511.57" y1="344.2" x2="511.57" y2="342.8" stroke="#2a2a2a" stroke-width="0.7" />
<line x1="515.7" y1="344.2" x2="515.7" y2="342.8" stroke="#2a2a2a" stroke-width="0.7" />
<line x1="518.63" y1="344.2" x2="518.63" y2="342.8" stroke="#2a2a2a" stroke-width="0.7" />
<line x1="520.9" y1="344.2" x2="520.9" y2="342.8" stroke="#2a2a2a" stroke-width="0.7" />
<line x1="522.76" y1="344.2" x2="522.76" y2="342.8" stroke="#2a2a2a" stroke-width="0.7" />
<line x1="524.33" y1="344.2" x2="524.33" y2="342.8" stroke="#2a2a2a" stroke-width="0.7" />
<line x1="525.7" y1="344.2" x2="525.7" y2="342.8" stroke="#2a2a2a" stroke-width="0.7" />
<line x1="526.9" y1="344.2" x2="526.9" y2="342.8" stroke="#2a2a2a" stroke-width="0.7" />
<text transform="translate(505.1,358.5) scale(1.03,1)" font-size="10" text-anchor="middle" fill="#222">10<tspan font-size="7.6" dy="-4.2">−2</tspan></text>
<line x1="527.97" y1="344.2" x2="527.97" y2="341.6" stroke="#2a2a2a" stroke-width="0.7" />
<line x1="535.04" y1="344.2" x2="535.04" y2="342.8" stroke="#2a2a2a" stroke-width="0.7" />
<line x1="539.17" y1="344.2" x2="539.17" y2="342.8" stroke="#2a2a2a" stroke-width="0.7" />
<line x1="542.1" y1="344.2" x2="542.1" y2="342.8" stroke="#2a2a2a" stroke-width="0.7" />
<line x1="544.37" y1="344.2" x2="544.37" y2="342.8" stroke="#2a2a2a" stroke-width="0.7" />
<line x1="546.23" y1="344.2" x2="546.23" y2="342.8" stroke="#2a2a2a" stroke-width="0.7" />
<line x1="547.8" y1="344.2" x2="547.8" y2="342.8" stroke="#2a2a2a" stroke-width="0.7" />
<line x1="549.17" y1="344.2" x2="549.17" y2="342.8" stroke="#2a2a2a" stroke-width="0.7" />
<line x1="550.37" y1="344.2" x2="550.37" y2="342.8" stroke="#2a2a2a" stroke-width="0.7" />
<text transform="translate(528.57,358.5) scale(1.03,1)" font-size="10" text-anchor="middle" fill="#222">10<tspan font-size="7.6" dy="-4.2">−1</tspan></text>
<line x1="551.44" y1="344.2" x2="551.44" y2="341.6" stroke="#2a2a2a" stroke-width="0.7" />
<line x1="558.51" y1="344.2" x2="558.51" y2="342.8" stroke="#2a2a2a" stroke-width="0.7" />
<line x1="562.64" y1="344.2" x2="562.64" y2="342.8" stroke="#2a2a2a" stroke-width="0.7" />
<line x1="565.57" y1="344.2" x2="565.57" y2="342.8" stroke="#2a2a2a" stroke-width="0.7" />
<line x1="567.84" y1="344.2" x2="567.84" y2="342.8" stroke="#2a2a2a" stroke-width="0.7" />
<line x1="569.7" y1="344.2" x2="569.7" y2="342.8" stroke="#2a2a2a" stroke-width="0.7" />
<line x1="571.27" y1="344.2" x2="571.27" y2="342.8" stroke="#2a2a2a" stroke-width="0.7" />
<line x1="572.64" y1="344.2" x2="572.64" y2="342.8" stroke="#2a2a2a" stroke-width="0.7" />
<line x1="573.84" y1="344.2" x2="573.84" y2="342.8" stroke="#2a2a2a" stroke-width="0.7" />
<text transform="translate(552.04,358.5) scale(1.03,1)" font-size="10" text-anchor="middle" fill="#222">10<tspan font-size="7.6" dy="-4.2">0</tspan></text>
<line x1="574.91" y1="344.2" x2="574.91" y2="341.6" stroke="#2a2a2a" stroke-width="0.7" />
<line x1="581.98" y1="344.2" x2="581.98" y2="342.8" stroke="#2a2a2a" stroke-width="0.7" />
<line x1="586.11" y1="344.2" x2="586.11" y2="342.8" stroke="#2a2a2a" stroke-width="0.7" />
<line x1="589.04" y1="344.2" x2="589.04" y2="342.8" stroke="#2a2a2a" stroke-width="0.7" />
<line x1="591.31" y1="344.2" x2="591.31" y2="342.8" stroke="#2a2a2a" stroke-width="0.7" />
<line x1="593.17" y1="344.2" x2="593.17" y2="342.8" stroke="#2a2a2a" stroke-width="0.7" />
<line x1="594.74" y1="344.2" x2="594.74" y2="342.8" stroke="#2a2a2a" stroke-width="0.7" />
<line x1="596.11" y1="344.2" x2="596.11" y2="342.8" stroke="#2a2a2a" stroke-width="0.7" />
<line x1="597.31" y1="344.2" x2="597.31" y2="342.8" stroke="#2a2a2a" stroke-width="0.7" />
<text transform="translate(575.51,358.5) scale(1.03,1)" font-size="10" text-anchor="middle" fill="#222">10<tspan font-size="7.6" dy="-4.2">1</tspan></text>
<line x1="598.38" y1="344.2" x2="598.38" y2="341.6" stroke="#2a2a2a" stroke-width="0.7" />
<line x1="605.45" y1="344.2" x2="605.45" y2="342.8" stroke="#2a2a2a" stroke-width="0.7" />
<line x1="609.58" y1="344.2" x2="609.58" y2="342.8" stroke="#2a2a2a" stroke-width="0.7" />
<line x1="612.51" y1="344.2" x2="612.51" y2="342.8" stroke="#2a2a2a" stroke-width="0.7" />
<line x1="614.78" y1="344.2" x2="614.78" y2="342.8" stroke="#2a2a2a" stroke-width="0.7" />
<line x1="616.64" y1="344.2" x2="616.64" y2="342.8" stroke="#2a2a2a" stroke-width="0.7" />
<line x1="618.21" y1="344.2" x2="618.21" y2="342.8" stroke="#2a2a2a" stroke-width="0.7" />
<line x1="619.58" y1="344.2" x2="619.58" y2="342.8" stroke="#2a2a2a" stroke-width="0.7" />
<line x1="620.78" y1="344.2" x2="620.78" y2="342.8" stroke="#2a2a2a" stroke-width="0.7" />
<text transform="translate(598.98,358.5) scale(1.03,1)" font-size="10" text-anchor="middle" fill="#222">10<tspan font-size="7.6" dy="-4.2">2</tspan></text>
<line x1="621.85" y1="344.2" x2="621.85" y2="341.6" stroke="#2a2a2a" stroke-width="0.7" />
<line x1="628.92" y1="344.2" x2="628.92" y2="342.8" stroke="#2a2a2a" stroke-width="0.7" />
<line x1="633.05" y1="344.2" x2="633.05" y2="342.8" stroke="#2a2a2a" stroke-width="0.7" />
<line x1="635.98" y1="344.2" x2="635.98" y2="342.8" stroke="#2a2a2a" stroke-width="0.7" />
<line x1="638.25" y1="344.2" x2="638.25" y2="342.8" stroke="#2a2a2a" stroke-width="0.7" />
<line x1="640.11" y1="344.2" x2="640.11" y2="342.8" stroke="#2a2a2a" stroke-width="0.7" />
<line x1="641.68" y1="344.2" x2="641.68" y2="342.8" stroke="#2a2a2a" stroke-width="0.7" />
<line x1="643.05" y1="344.2" x2="643.05" y2="342.8" stroke="#2a2a2a" stroke-width="0.7" />
<line x1="644.25" y1="344.2" x2="644.25" y2="342.8" stroke="#2a2a2a" stroke-width="0.7" />
<text transform="translate(622.45,358.5) scale(1.03,1)" font-size="10" text-anchor="middle" fill="#222">10<tspan font-size="7.6" dy="-4.2">3</tspan></text>
<line x1="645.32" y1="344.2" x2="645.32" y2="341.6" stroke="#2a2a2a" stroke-width="0.7" />
<line x1="652.39" y1="344.2" x2="652.39" y2="342.8" stroke="#2a2a2a" stroke-width="0.7" />
<line x1="656.52" y1="344.2" x2="656.52" y2="342.8" stroke="#2a2a2a" stroke-width="0.7" />
<line x1="659.45" y1="344.2" x2="659.45" y2="342.8" stroke="#2a2a2a" stroke-width="0.7" />
<line x1="661.72" y1="344.2" x2="661.72" y2="342.8" stroke="#2a2a2a" stroke-width="0.7" />
<line x1="663.58" y1="344.2" x2="663.58" y2="342.8" stroke="#2a2a2a" stroke-width="0.7" />
<line x1="665.15" y1="344.2" x2="665.15" y2="342.8" stroke="#2a2a2a" stroke-width="0.7" />
<line x1="666.52" y1="344.2" x2="666.52" y2="342.8" stroke="#2a2a2a" stroke-width="0.7" />
<line x1="667.72" y1="344.2" x2="667.72" y2="342.8" stroke="#2a2a2a" stroke-width="0.7" />
<text transform="translate(645.92,358.5) scale(1.03,1)" font-size="10" text-anchor="middle" fill="#222">10<tspan font-size="7.6" dy="-4.2">4</tspan></text>
<line x1="668.79" y1="344.2" x2="668.79" y2="341.6" stroke="#2a2a2a" stroke-width="0.7" />
<line x1="675.86" y1="344.2" x2="675.86" y2="342.8" stroke="#2a2a2a" stroke-width="0.7" />
<line x1="679.99" y1="344.2" x2="679.99" y2="342.8" stroke="#2a2a2a" stroke-width="0.7" />
<line x1="682.92" y1="344.2" x2="682.92" y2="342.8" stroke="#2a2a2a" stroke-width="0.7" />
<text transform="translate(669.39,358.5) scale(1.03,1)" font-size="10" text-anchor="middle" fill="#222">10<tspan font-size="7.6" dy="-4.2">5</tspan></text>
<text transform="translate(594.9,376.5) scale(1.03,1)" font-size="10" text-anchor="middle" fill="#222"><tspan font-style="italic">P</tspan> (mW mm<tspan font-size="7" dy="-3.8">−2</tspan><tspan dy="3.8">)</tspan></text>
<text transform="translate(472.4,271.8) rotate(-90) scale(1.03,1)" font-size="10" text-anchor="middle" fill="#222"><tspan font-style="italic">j</tspan><tspan font-size="7.6" dy="2.4">sc</tspan><tspan dy="-2.4"> (A cm</tspan><tspan font-size="7" dy="-3.8">−2</tspan><tspan dy="3.8">)</tspan></text>
<text x="462.2" y="208.1" font-size="14" font-weight="bold" fill="#000" >f</text>
</svg></body></html>
